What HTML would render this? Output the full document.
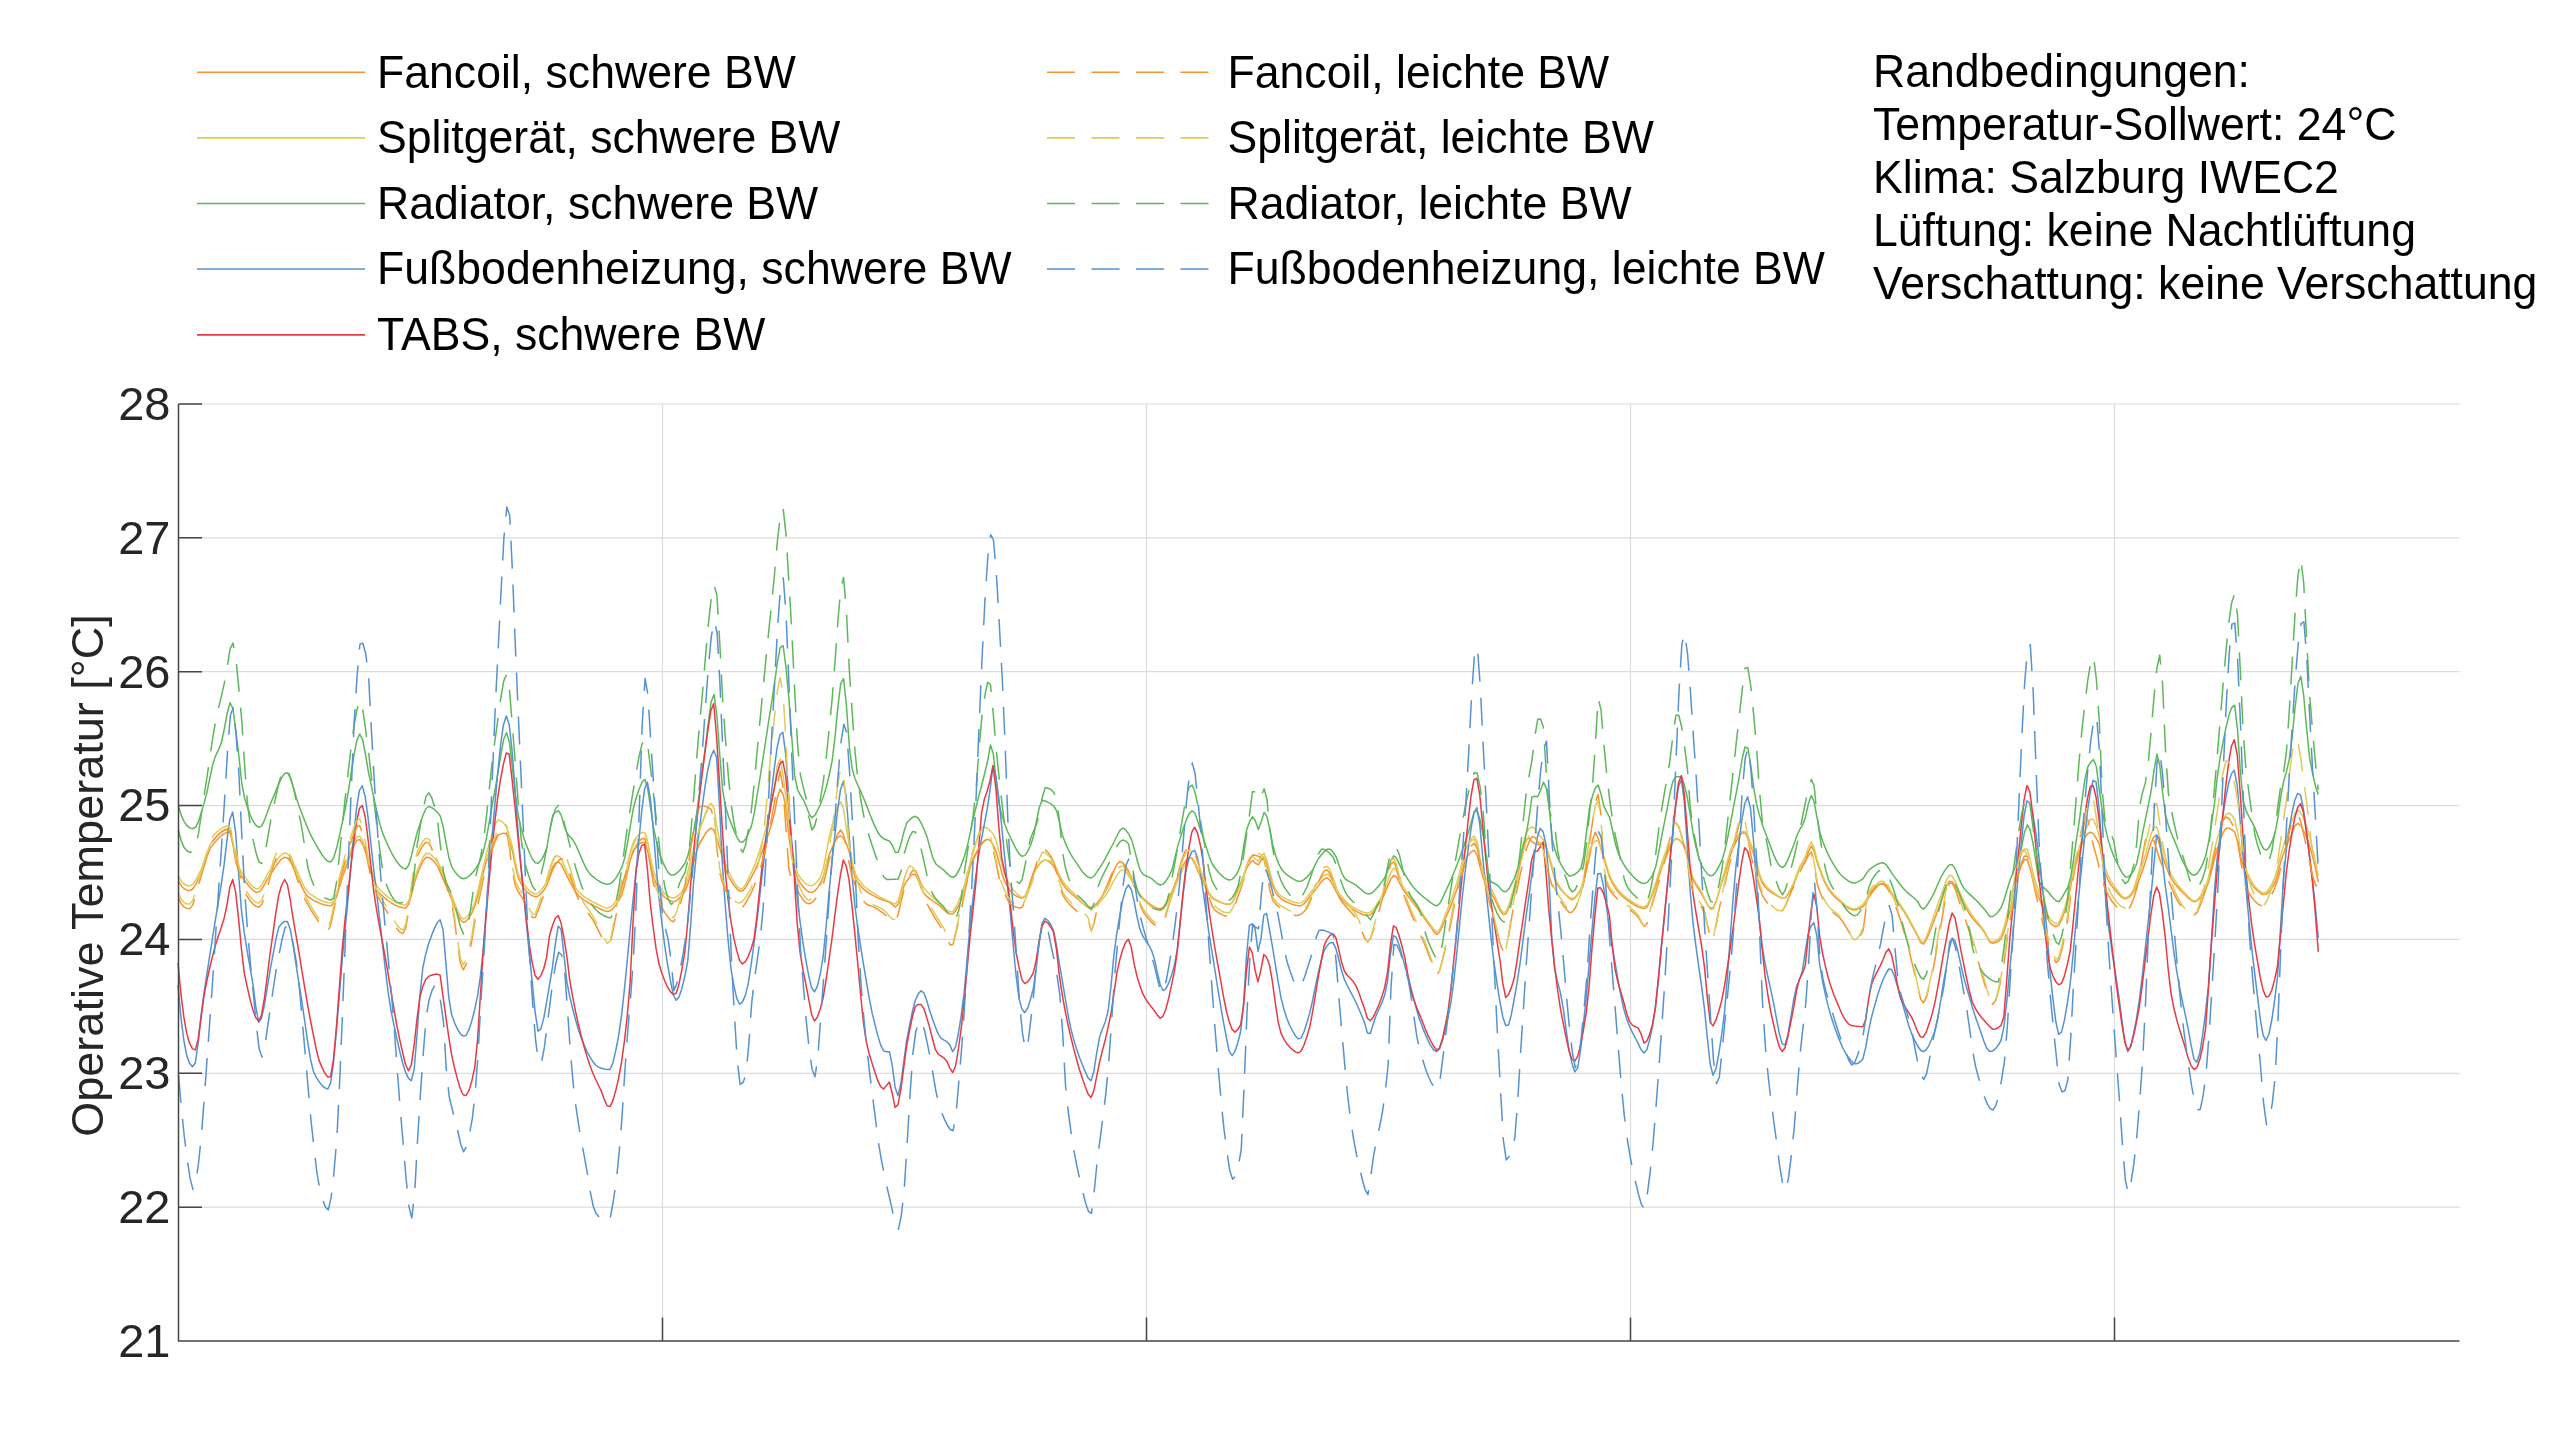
<!DOCTYPE html><html><head><meta charset="utf-8"><style>html,body{margin:0;padding:0;background:#fff;overflow:hidden}svg{display:block;will-change:transform}</style></head><body><svg width="2560" height="1440" viewBox="0 0 2560 1440">
<rect width="2560" height="1440" fill="#fff"/>
<path d="M178.5 404.00H2459.5 M178.5 537.86H2459.5 M178.5 671.71H2459.5 M178.5 805.57H2459.5 M178.5 939.43H2459.5 M178.5 1073.29H2459.5 M178.5 1207.14H2459.5 M662.50 404.0V1341.0 M1146.50 404.0V1341.0 M1630.50 404.0V1341.0 M2114.50 404.0V1341.0" stroke="#dcdcdc" stroke-width="1.2" fill="none"/>
<path d="M178.3 880.8 L181.2 885.7 L184.1 888.7 L186.9 890.2 L189.8 890.6 L192.7 889.0 L195.6 884.6 L198.5 879.0 L201.3 873.1 L204.2 865.1 L207.1 856.3 L210.0 848.9 L212.9 844.6 L215.7 841.2 L218.6 838.1 L221.5 835.5 L224.4 833.6 L227.3 832.3 L230.1 832.3 L233.0 845.2 L235.9 862.6 L238.8 870.6 L241.7 876.0 L244.5 880.2 L247.4 884.0 L250.3 887.6 L253.2 890.6 L256.1 892.4 L258.9 892.1 L261.8 889.0 L264.7 884.1 L267.6 878.7 L270.5 874.4 L273.3 870.2 L276.2 865.8 L279.1 861.7 L282.0 858.6 L284.9 857.2 L287.7 858.3 L290.6 861.9 L293.5 867.3 L296.4 873.8 L299.3 880.8 L302.1 887.4 L305.0 892.9 L307.9 896.7 L310.8 898.6 L313.7 900.3 L316.5 901.8 L319.4 903.1 L322.3 904.2 L325.2 905.1 L328.1 905.6 L330.9 905.8 L333.8 903.1 L336.7 896.1 L339.6 886.8 L342.5 877.1 L345.3 869.2 L348.2 861.3 L351.1 852.9 L354.0 845.4 L356.9 840.4 L359.7 839.5 L362.6 843.7 L365.5 851.9 L368.4 862.4 L371.3 873.4 L374.1 883.2 L377.0 890.2 L379.9 893.6 L382.8 896.2 L385.7 898.7 L388.5 901.0 L391.4 903.0 L394.3 904.7 L397.2 906.1 L400.1 907.1 L402.9 907.8 L405.8 908.0 L408.7 904.1 L411.6 894.3 L414.5 882.8 L417.3 874.2 L420.2 867.3 L423.1 861.0 L426.0 857.3 L428.9 857.4 L431.7 859.3 L434.6 862.3 L437.5 866.1 L440.4 870.3 L443.3 876.4 L446.1 884.3 L449.0 892.6 L451.9 899.6 L454.8 907.0 L457.7 914.4 L460.5 920.0 L463.4 922.5 L466.3 921.1 L469.2 917.4 L472.1 912.7 L474.9 905.7 L477.8 895.6 L480.7 883.6 L483.6 871.5 L486.5 860.7 L489.3 852.5 L492.2 845.2 L495.1 838.9 L498.0 835.2 L500.9 833.9 L503.7 833.1 L506.6 834.0 L509.5 841.1 L512.4 850.9 L515.3 865.6 L518.1 877.5 L521.0 883.5 L523.9 888.1 L526.8 891.5 L529.7 893.9 L532.5 895.8 L535.4 896.8 L538.3 896.0 L541.2 893.4 L544.1 889.9 L546.9 885.2 L549.8 876.3 L552.7 867.1 L555.6 862.7 L558.5 862.0 L561.3 864.3 L564.2 870.3 L567.1 876.7 L570.0 881.9 L572.9 887.2 L575.7 892.0 L578.6 895.7 L581.5 898.3 L584.4 900.4 L587.3 902.2 L590.1 903.9 L593.0 905.3 L595.9 906.7 L598.8 908.1 L601.7 909.5 L604.5 910.8 L607.4 911.4 L610.3 910.7 L613.2 908.3 L616.1 904.6 L618.9 900.1 L621.8 894.6 L624.7 884.5 L627.6 871.7 L630.5 859.4 L633.3 850.6 L636.2 846.9 L639.1 844.2 L642.0 842.4 L644.9 842.6 L647.7 851.4 L650.6 865.3 L653.5 877.0 L656.4 883.7 L659.3 889.6 L662.1 894.4 L665.0 897.5 L667.9 899.6 L670.8 901.2 L673.7 901.7 L676.5 900.6 L679.4 898.1 L682.3 894.7 L685.2 890.8 L688.1 883.3 L690.9 872.8 L693.8 861.4 L696.7 850.9 L699.6 843.5 L702.5 838.5 L705.3 833.8 L708.2 830.2 L711.1 828.2 L714.0 830.1 L716.9 838.8 L719.7 847.8 L722.6 858.5 L725.5 868.9 L728.4 876.0 L731.3 881.1 L734.1 885.6 L737.0 889.1 L739.9 891.0 L742.8 890.7 L745.7 887.4 L748.5 882.5 L751.4 877.5 L754.3 871.6 L757.2 864.9 L760.1 857.6 L762.9 849.9 L765.8 841.9 L768.7 833.2 L771.6 823.8 L774.5 813.3 L777.3 797.7 L780.2 789.2 L783.1 794.7 L786.0 807.5 L788.9 836.2 L791.7 856.2 L794.6 868.9 L797.5 878.0 L800.4 883.1 L803.3 887.0 L806.1 890.1 L809.0 892.1 L811.9 892.6 L814.8 890.9 L817.7 887.4 L820.5 882.9 L823.4 876.0 L826.3 865.2 L829.2 854.6 L832.1 847.7 L834.9 841.9 L837.8 837.4 L840.7 835.7 L843.6 838.3 L846.5 843.8 L849.3 852.2 L852.2 866.2 L855.1 877.9 L858.0 882.6 L860.9 886.1 L863.7 889.1 L866.6 891.5 L869.5 893.4 L872.4 895.2 L875.3 896.7 L878.1 898.2 L881.0 899.3 L883.9 900.3 L886.8 901.3 L889.7 902.5 L892.5 904.7 L895.4 907.1 L898.3 903.9 L901.2 894.2 L904.1 885.6 L906.9 880.9 L909.8 876.8 L912.7 874.3 L915.6 874.8 L918.5 880.6 L921.3 888.3 L924.2 893.7 L927.1 896.6 L930.0 898.9 L932.9 901.0 L935.7 902.9 L938.6 905.0 L941.5 907.6 L944.4 910.3 L947.3 912.6 L950.1 914.0 L953.0 913.8 L955.9 910.4 L958.8 905.3 L961.7 899.1 L964.5 889.6 L967.4 878.2 L970.3 867.2 L973.2 858.7 L976.1 853.2 L978.9 848.0 L981.8 843.6 L984.7 840.5 L987.6 839.2 L990.5 840.9 L993.3 845.1 L996.2 851.7 L999.1 862.4 L1002.0 873.7 L1004.9 881.9 L1007.7 886.9 L1010.6 891.1 L1013.5 894.3 L1016.4 896.2 L1019.3 897.4 L1022.1 898.2 L1025.0 896.5 L1027.9 889.6 L1030.8 880.3 L1033.7 871.9 L1036.5 867.1 L1039.4 863.7 L1042.3 861.1 L1045.2 860.0 L1048.1 860.9 L1050.9 863.1 L1053.8 866.3 L1056.7 871.8 L1059.6 878.2 L1062.5 883.8 L1065.3 887.5 L1068.2 890.6 L1071.1 893.2 L1074.0 895.7 L1076.9 898.1 L1079.7 900.7 L1082.6 903.2 L1085.5 905.3 L1088.4 906.7 L1091.3 907.2 L1094.1 906.0 L1097.0 903.3 L1099.9 899.5 L1102.8 895.2 L1105.7 891.0 L1108.5 884.9 L1111.4 877.3 L1114.3 869.8 L1117.2 864.0 L1120.1 861.4 L1122.9 863.1 L1125.8 867.5 L1128.7 873.0 L1131.6 878.3 L1134.5 884.8 L1137.3 891.1 L1140.2 895.3 L1143.1 898.2 L1146.0 901.0 L1148.9 903.4 L1151.7 905.5 L1154.6 907.1 L1157.5 908.2 L1160.4 908.6 L1163.3 907.1 L1166.1 902.9 L1169.0 897.3 L1171.9 891.6 L1174.8 884.8 L1177.7 876.9 L1180.5 869.9 L1183.4 864.7 L1186.3 859.9 L1189.2 857.3 L1192.1 858.8 L1194.9 863.9 L1197.8 870.9 L1200.7 877.8 L1203.6 883.3 L1206.5 889.0 L1209.3 894.3 L1212.2 898.1 L1215.1 899.9 L1218.0 901.3 L1220.9 902.6 L1223.7 903.5 L1226.6 904.1 L1229.5 904.4 L1232.4 902.4 L1235.3 896.2 L1238.1 888.6 L1241.0 882.1 L1243.9 875.0 L1246.8 868.2 L1249.7 863.2 L1252.5 860.3 L1255.4 863.2 L1258.3 864.8 L1261.2 860.1 L1264.1 857.2 L1266.9 864.5 L1269.8 875.3 L1272.7 885.9 L1275.6 892.8 L1278.5 896.3 L1281.3 898.9 L1284.2 900.8 L1287.1 902.2 L1290.0 903.4 L1292.9 904.5 L1295.7 905.3 L1298.6 905.7 L1301.5 905.5 L1304.4 903.3 L1307.3 899.9 L1310.1 896.1 L1313.0 892.7 L1315.9 889.1 L1318.8 885.1 L1321.7 881.4 L1324.5 878.8 L1327.4 878.0 L1330.3 880.6 L1333.2 885.7 L1336.1 891.4 L1338.9 896.0 L1341.8 899.5 L1344.7 902.6 L1347.6 905.4 L1350.5 907.5 L1353.3 909.4 L1356.2 911.3 L1359.1 912.9 L1362.0 914.3 L1364.9 915.2 L1367.7 915.6 L1370.6 914.7 L1373.5 911.9 L1376.4 907.8 L1379.3 903.3 L1382.1 898.8 L1385.0 892.9 L1387.9 885.6 L1390.8 879.1 L1393.7 875.5 L1396.5 877.0 L1399.4 882.5 L1402.3 888.4 L1405.2 892.5 L1408.1 896.3 L1410.9 899.9 L1413.8 903.5 L1416.7 907.2 L1419.6 911.2 L1422.5 915.3 L1425.3 919.5 L1428.2 923.5 L1431.1 927.4 L1434.0 931.9 L1436.9 934.3 L1439.7 931.7 L1442.6 925.7 L1445.5 918.3 L1448.4 911.5 L1451.3 904.6 L1454.1 897.0 L1457.0 888.9 L1459.9 879.2 L1462.8 867.4 L1465.7 859.4 L1468.5 854.9 L1471.4 851.6 L1474.3 850.3 L1477.2 855.5 L1480.1 866.7 L1482.9 877.1 L1485.8 883.5 L1488.7 889.0 L1491.6 894.0 L1494.5 899.0 L1497.3 904.9 L1500.2 910.9 L1503.1 914.6 L1506.0 913.7 L1508.9 907.6 L1511.7 898.7 L1514.6 889.7 L1517.5 877.2 L1520.4 862.3 L1523.3 848.5 L1526.1 839.4 L1529.0 838.3 L1531.9 841.6 L1534.8 843.6 L1537.7 844.5 L1540.5 844.4 L1543.4 843.3 L1546.3 848.2 L1549.2 857.7 L1552.1 868.8 L1554.9 879.6 L1557.8 885.4 L1560.7 889.4 L1563.6 892.5 L1566.5 895.3 L1569.3 897.9 L1572.2 898.9 L1575.1 897.4 L1578.0 894.0 L1580.9 889.4 L1583.7 881.6 L1586.6 869.5 L1589.5 856.8 L1592.4 840.8 L1595.3 832.2 L1598.1 838.0 L1601.0 849.0 L1603.9 859.0 L1606.8 868.6 L1609.7 877.5 L1612.5 883.7 L1615.4 888.2 L1618.3 892.0 L1621.2 895.1 L1624.1 897.7 L1626.9 899.9 L1629.8 901.9 L1632.7 903.9 L1635.6 905.7 L1638.5 907.1 L1641.3 908.1 L1644.2 908.6 L1647.1 906.9 L1650.0 900.6 L1652.9 893.0 L1655.7 885.7 L1658.6 877.2 L1661.5 868.5 L1664.4 860.5 L1667.3 853.9 L1670.1 847.0 L1673.0 841.3 L1675.9 838.5 L1678.8 839.5 L1681.7 842.6 L1684.5 847.0 L1687.4 857.9 L1690.3 871.5 L1693.2 880.2 L1696.1 885.3 L1698.9 889.5 L1701.8 894.1 L1704.7 899.7 L1707.6 905.0 L1710.5 908.2 L1713.3 907.5 L1716.2 901.1 L1719.1 891.6 L1722.0 881.8 L1724.9 873.1 L1727.7 863.5 L1730.6 854.2 L1733.5 846.8 L1736.4 841.1 L1739.3 836.0 L1742.1 832.7 L1745.0 832.9 L1747.9 837.7 L1750.8 845.4 L1753.7 854.2 L1756.5 863.7 L1759.4 875.7 L1762.3 883.2 L1765.2 887.0 L1768.1 889.9 L1770.9 892.1 L1773.8 893.9 L1776.7 895.7 L1779.6 897.2 L1782.5 898.1 L1785.3 897.7 L1788.2 894.5 L1791.1 889.7 L1794.0 883.9 L1796.9 875.6 L1799.7 868.7 L1802.6 865.6 L1805.5 860.7 L1808.4 851.6 L1811.3 846.0 L1814.1 851.2 L1817.0 861.8 L1819.9 869.9 L1822.8 877.7 L1825.7 884.5 L1828.5 889.4 L1831.4 893.2 L1834.3 896.4 L1837.2 899.1 L1840.1 901.5 L1842.9 904.0 L1845.8 906.4 L1848.7 908.4 L1851.6 909.6 L1854.5 910.0 L1857.3 909.4 L1860.2 908.2 L1863.1 906.5 L1866.0 902.4 L1868.9 897.3 L1871.7 893.3 L1874.6 889.4 L1877.5 886.0 L1880.4 883.9 L1883.3 884.0 L1886.1 886.6 L1889.0 890.6 L1891.9 894.8 L1894.8 898.5 L1897.7 902.3 L1900.5 906.4 L1903.4 910.7 L1906.3 915.3 L1909.2 920.5 L1912.1 925.8 L1914.9 931.2 L1917.8 936.4 L1920.7 942.6 L1923.6 944.2 L1926.5 939.2 L1929.3 932.7 L1932.2 925.6 L1935.1 917.7 L1938.0 909.6 L1940.9 902.2 L1943.7 893.7 L1946.6 885.8 L1949.5 881.1 L1952.4 882.0 L1955.3 886.9 L1958.1 893.4 L1961.0 899.3 L1963.9 904.4 L1966.8 909.5 L1969.7 914.2 L1972.5 918.2 L1975.4 921.6 L1978.3 924.8 L1981.2 928.1 L1984.1 931.7 L1986.9 937.0 L1989.8 942.2 L1992.7 943.2 L1995.6 942.5 L1998.5 941.3 L2001.3 938.6 L2004.2 931.2 L2007.1 921.1 L2010.0 910.7 L2012.9 897.9 L2015.7 883.9 L2018.6 872.6 L2021.5 865.2 L2024.4 859.6 L2027.3 859.7 L2030.1 868.5 L2033.0 880.3 L2035.9 889.3 L2038.8 897.2 L2041.7 904.5 L2044.5 911.4 L2047.4 918.3 L2050.3 923.2 L2053.2 925.5 L2056.1 926.7 L2058.9 925.1 L2061.8 919.2 L2064.7 911.0 L2067.6 901.5 L2070.5 887.2 L2073.3 873.1 L2076.2 862.8 L2079.1 853.0 L2082.0 844.3 L2084.9 837.5 L2087.7 833.6 L2090.6 832.2 L2093.5 833.9 L2096.4 838.3 L2099.3 844.2 L2102.1 857.8 L2105.0 872.9 L2107.9 879.8 L2110.8 884.7 L2113.7 888.4 L2116.5 891.7 L2119.4 895.0 L2122.3 897.7 L2125.2 898.9 L2128.1 897.9 L2130.9 895.2 L2133.8 891.7 L2136.7 886.2 L2139.6 878.6 L2142.5 870.5 L2145.3 862.3 L2148.2 852.3 L2151.1 842.8 L2154.0 836.3 L2156.9 836.0 L2159.7 845.4 L2162.6 856.7 L2165.5 864.9 L2168.4 872.6 L2171.3 878.4 L2174.1 882.8 L2177.0 886.6 L2179.9 889.8 L2182.8 892.7 L2185.7 895.3 L2188.5 898.1 L2191.4 900.5 L2194.3 901.7 L2197.2 900.8 L2200.1 898.1 L2202.9 893.9 L2205.8 889.2 L2208.7 881.5 L2211.6 870.2 L2214.5 858.5 L2217.3 849.1 L2220.2 840.4 L2223.1 832.5 L2226.0 828.2 L2228.9 828.3 L2231.7 829.6 L2234.6 831.8 L2237.5 841.3 L2240.4 856.4 L2243.3 865.7 L2246.1 873.5 L2249.0 879.6 L2251.9 884.4 L2254.8 888.2 L2257.7 891.0 L2260.5 893.2 L2263.4 894.6 L2266.3 894.1 L2269.2 891.6 L2272.1 887.8 L2274.9 882.9 L2277.8 873.3 L2280.7 862.1 L2283.6 853.4 L2286.5 845.9 L2289.3 839.2 L2292.2 832.5 L2295.1 825.7 L2298.0 823.3 L2300.9 826.0 L2303.7 831.0 L2306.6 837.1 L2309.5 845.6 L2312.4 855.7 L2315.3 867.3 L2318.1 881.4 L2318.3 882.2" stroke="#f6942e" stroke-width="1.5" fill="none" stroke-linejoin="round"/>
<path d="M178.3 876.0 L181.2 880.9 L184.1 884.0 L186.9 885.5 L189.8 886.0 L192.7 884.4 L195.6 880.3 L198.5 874.9 L201.3 869.2 L204.2 861.2 L207.1 852.4 L210.0 844.9 L212.9 840.6 L215.7 837.2 L218.6 834.1 L221.5 831.5 L224.4 829.6 L227.3 828.3 L230.1 828.3 L233.0 841.5 L235.9 859.1 L238.8 867.0 L241.7 872.3 L244.5 876.4 L247.4 880.2 L250.3 883.9 L253.2 886.9 L256.1 888.7 L258.9 888.5 L261.8 885.0 L264.7 879.6 L267.6 873.9 L270.5 869.4 L273.3 865.3 L276.2 861.0 L279.1 857.2 L282.0 854.3 L284.9 853.0 L287.7 854.0 L290.6 857.5 L293.5 862.8 L296.4 869.2 L299.3 876.0 L302.1 882.6 L305.0 888.2 L307.9 892.1 L310.8 894.3 L313.7 896.3 L316.5 898.1 L319.4 899.7 L322.3 901.0 L325.2 902.1 L328.1 902.8 L330.9 903.0 L333.8 900.2 L336.7 892.9 L339.6 883.2 L342.5 873.3 L345.3 865.2 L348.2 857.4 L351.1 849.2 L354.0 841.9 L356.9 837.1 L359.7 836.2 L362.6 840.4 L365.5 848.4 L368.4 858.7 L371.3 869.5 L374.1 879.2 L377.0 886.2 L379.9 889.6 L382.8 892.5 L385.7 895.1 L388.5 897.5 L391.4 899.6 L394.3 901.4 L397.2 902.9 L400.1 904.0 L402.9 904.7 L405.8 905.0 L408.7 901.0 L411.6 890.8 L414.5 879.0 L417.3 870.2 L420.2 863.2 L423.1 857.0 L426.0 853.3 L428.9 853.4 L431.7 855.3 L434.6 858.5 L437.5 862.4 L440.4 866.6 L443.3 872.7 L446.1 880.8 L449.0 889.1 L451.9 896.1 L454.8 903.5 L457.7 910.9 L460.5 916.6 L463.4 919.0 L466.3 917.6 L469.2 913.8 L472.1 908.9 L474.9 901.7 L477.8 891.1 L480.7 878.6 L483.6 865.5 L486.5 853.5 L489.3 843.6 L492.2 833.4 L495.1 824.4 L498.0 820.1 L500.9 820.8 L503.7 823.3 L506.6 827.2 L509.5 835.9 L512.4 846.7 L515.3 861.9 L518.1 873.8 L521.0 879.9 L523.9 884.6 L526.8 888.1 L529.7 890.6 L532.5 892.8 L535.4 894.0 L538.3 893.1 L541.2 890.3 L544.1 886.3 L546.9 881.0 L549.8 870.7 L552.7 860.2 L555.6 856.0 L558.5 856.0 L561.3 858.6 L564.2 865.4 L567.1 872.6 L570.0 878.0 L572.9 883.3 L575.7 888.0 L578.6 891.7 L581.5 894.4 L584.4 896.7 L587.3 898.7 L590.1 900.5 L593.0 902.1 L595.9 903.5 L598.8 904.9 L601.7 906.3 L604.5 907.4 L607.4 908.0 L610.3 907.3 L613.2 904.7 L616.1 900.7 L618.9 895.8 L621.8 889.9 L624.7 878.9 L627.6 865.0 L630.5 851.6 L633.3 841.9 L636.2 837.7 L639.1 834.5 L642.0 832.5 L644.9 832.7 L647.7 842.5 L650.6 857.8 L653.5 870.8 L656.4 878.5 L659.3 885.3 L662.1 890.6 L665.0 894.0 L667.9 896.0 L670.8 897.5 L673.7 898.0 L676.5 896.9 L679.4 894.4 L682.3 890.9 L685.2 886.7 L688.1 878.5 L690.9 866.6 L693.8 853.2 L696.7 840.4 L699.6 830.3 L702.5 822.1 L705.3 813.8 L708.2 807.1 L711.1 803.3 L714.0 808.0 L716.9 826.8 L719.7 841.2 L722.6 853.2 L725.5 863.4 L728.4 870.8 L731.3 876.8 L734.1 882.2 L737.0 886.4 L739.9 888.7 L742.8 888.4 L745.7 884.4 L748.5 878.6 L751.4 872.7 L754.3 865.9 L757.2 858.0 L760.1 849.2 L762.9 839.5 L765.8 828.4 L768.7 815.7 L771.6 801.8 L774.5 786.7 L777.3 765.5 L780.2 759.0 L783.1 775.6 L786.0 797.9 L788.9 826.2 L791.7 846.7 L794.6 862.2 L797.5 873.1 L800.4 878.0 L803.3 881.3 L806.1 883.8 L809.0 885.3 L811.9 885.7 L814.8 884.2 L817.7 881.1 L820.5 876.8 L823.4 868.2 L826.3 852.9 L829.2 836.9 L832.1 825.5 L834.9 815.0 L837.8 806.2 L840.7 801.8 L843.6 809.4 L846.5 828.9 L849.3 845.1 L852.2 861.5 L855.1 873.4 L858.0 878.6 L860.9 882.5 L863.7 885.7 L866.6 888.2 L869.5 890.4 L872.4 892.3 L875.3 894.1 L878.1 895.9 L881.0 897.5 L883.9 899.0 L886.8 900.4 L889.7 901.6 L892.5 902.9 L895.4 904.0 L898.3 900.4 L901.2 889.7 L904.1 878.9 L906.9 870.7 L909.8 865.6 L912.7 867.3 L915.6 871.9 L918.5 877.9 L921.3 883.9 L924.2 888.4 L927.1 891.8 L930.0 894.8 L932.9 897.6 L935.7 900.2 L938.6 902.7 L941.5 905.4 L944.4 908.1 L947.3 910.4 L950.1 911.8 L953.0 911.4 L955.9 907.2 L958.8 900.8 L961.7 893.8 L964.5 884.4 L967.4 873.5 L970.3 862.3 L973.2 852.2 L976.1 842.9 L978.9 833.3 L981.8 827.2 L984.7 827.0 L987.6 828.5 L990.5 831.1 L993.3 834.3 L996.2 840.4 L999.1 852.0 L1002.0 864.9 L1004.9 874.7 L1007.7 880.8 L1010.6 886.1 L1013.5 890.3 L1016.4 893.3 L1019.3 895.9 L1022.1 897.4 L1025.0 896.0 L1027.9 889.9 L1030.8 881.5 L1033.7 873.7 L1036.5 868.7 L1039.4 864.6 L1042.3 861.4 L1045.2 860.0 L1048.1 860.4 L1050.9 861.5 L1053.8 863.7 L1056.7 868.7 L1059.6 875.1 L1062.5 880.7 L1065.3 884.6 L1068.2 887.8 L1071.1 890.8 L1074.0 893.6 L1076.9 896.6 L1079.7 900.0 L1082.6 903.2 L1085.5 906.0 L1088.4 908.0 L1091.3 908.6 L1094.1 907.6 L1097.0 905.2 L1099.9 902.1 L1102.8 898.6 L1105.7 895.2 L1108.5 890.8 L1111.4 885.4 L1114.3 879.8 L1117.2 874.8 L1120.1 871.1 L1122.9 869.7 L1125.8 871.7 L1128.7 876.0 L1131.6 880.6 L1134.5 886.6 L1137.3 892.5 L1140.2 896.5 L1143.1 899.5 L1146.0 902.2 L1148.9 904.7 L1151.7 906.8 L1154.6 908.5 L1157.5 909.6 L1160.4 910.0 L1163.3 908.7 L1166.1 904.9 L1169.0 899.9 L1171.9 894.6 L1174.8 888.3 L1177.7 880.7 L1180.5 873.7 L1183.4 868.0 L1186.3 862.2 L1189.2 858.1 L1192.1 857.6 L1194.9 862.1 L1197.8 869.3 L1200.7 876.9 L1203.6 882.6 L1206.5 888.2 L1209.3 893.3 L1212.2 897.1 L1215.1 899.1 L1218.0 900.8 L1220.9 902.2 L1223.7 903.3 L1226.6 904.1 L1229.5 904.4 L1232.4 902.7 L1235.3 897.5 L1238.1 890.6 L1241.0 883.6 L1243.9 874.1 L1246.8 864.5 L1249.7 858.3 L1252.5 856.2 L1255.4 859.4 L1258.3 861.2 L1261.2 856.1 L1264.1 853.0 L1266.9 860.4 L1269.8 871.4 L1272.7 882.6 L1275.6 889.9 L1278.5 893.5 L1281.3 896.2 L1284.2 898.1 L1287.1 899.5 L1290.0 900.7 L1292.9 901.7 L1295.7 902.5 L1298.6 902.9 L1301.5 902.7 L1304.4 900.4 L1307.3 896.8 L1310.1 892.9 L1313.0 889.4 L1315.9 885.6 L1318.8 881.4 L1321.7 877.6 L1324.5 874.9 L1327.4 874.1 L1330.3 876.7 L1333.2 882.1 L1336.1 888.2 L1338.9 893.1 L1341.8 896.7 L1344.7 900.2 L1347.6 903.1 L1350.5 905.3 L1353.3 907.2 L1356.2 908.9 L1359.1 910.5 L1362.0 911.8 L1364.9 912.6 L1367.7 913.0 L1370.6 912.1 L1373.5 909.3 L1376.4 905.2 L1379.3 900.5 L1382.1 895.8 L1385.0 889.1 L1387.9 880.4 L1390.8 872.6 L1393.7 868.2 L1396.5 870.2 L1399.4 877.6 L1402.3 885.1 L1405.2 889.8 L1408.1 893.8 L1410.9 897.5 L1413.8 901.2 L1416.7 905.0 L1419.6 909.2 L1422.5 913.5 L1425.3 917.8 L1428.2 921.9 L1431.1 925.7 L1434.0 929.8 L1436.9 932.0 L1439.7 929.2 L1442.6 922.5 L1445.5 914.5 L1448.4 907.1 L1451.3 899.5 L1454.1 891.3 L1457.0 882.3 L1459.9 871.6 L1462.8 858.3 L1465.7 849.3 L1468.5 844.3 L1471.4 840.6 L1474.3 839.2 L1477.2 845.5 L1480.1 858.8 L1482.9 871.0 L1485.8 878.2 L1488.7 884.2 L1491.6 889.7 L1494.5 895.1 L1497.3 901.7 L1500.2 908.4 L1503.1 912.6 L1506.0 911.6 L1508.9 904.9 L1511.7 895.3 L1514.6 885.6 L1517.5 872.9 L1520.4 857.9 L1523.3 843.6 L1526.1 833.1 L1529.0 828.7 L1531.9 826.8 L1534.8 828.5 L1537.7 833.5 L1540.5 837.1 L1543.4 839.8 L1546.3 846.3 L1549.2 855.6 L1552.1 866.5 L1554.9 877.2 L1557.8 883.7 L1560.7 888.3 L1563.6 892.0 L1566.5 895.5 L1569.3 898.7 L1572.2 900.0 L1575.1 898.3 L1578.0 894.5 L1580.9 889.3 L1583.7 878.1 L1586.6 861.3 L1589.5 849.8 L1592.4 844.4 L1595.3 840.7 L1598.1 840.9 L1601.0 848.1 L1603.9 856.7 L1606.8 865.9 L1609.7 875.2 L1612.5 881.5 L1615.4 886.0 L1618.3 889.9 L1621.2 893.1 L1624.1 895.8 L1626.9 898.0 L1629.8 900.1 L1632.7 902.2 L1635.6 904.0 L1638.5 905.4 L1641.3 906.5 L1644.2 907.0 L1647.1 905.2 L1650.0 898.9 L1652.9 891.1 L1655.7 883.1 L1658.6 873.2 L1661.5 863.3 L1664.4 855.0 L1667.3 849.4 L1670.1 844.5 L1673.0 840.8 L1675.9 839.0 L1678.8 839.8 L1681.7 842.2 L1684.5 845.9 L1687.4 856.2 L1690.3 869.6 L1693.2 878.1 L1696.1 883.1 L1698.9 887.3 L1701.8 892.3 L1704.7 899.0 L1707.6 905.4 L1710.5 909.5 L1713.3 908.7 L1716.2 901.4 L1719.1 890.6 L1722.0 879.7 L1724.9 870.2 L1727.7 859.7 L1730.6 850.0 L1733.5 842.7 L1736.4 837.9 L1739.3 833.9 L1742.1 831.4 L1745.0 831.6 L1747.9 836.2 L1750.8 843.6 L1753.7 852.1 L1756.5 861.4 L1759.4 873.4 L1762.3 881.0 L1765.2 885.1 L1768.1 888.2 L1770.9 890.6 L1773.8 892.7 L1776.7 894.9 L1779.6 896.7 L1782.5 897.8 L1785.3 897.4 L1788.2 893.6 L1791.1 888.1 L1794.0 882.0 L1796.9 873.8 L1799.7 866.5 L1802.6 862.0 L1805.5 856.1 L1808.4 847.2 L1811.3 842.0 L1814.1 847.8 L1817.0 859.5 L1819.9 867.9 L1822.8 875.8 L1825.7 882.6 L1828.5 887.6 L1831.4 891.6 L1834.3 894.9 L1837.2 897.8 L1840.1 900.3 L1842.9 902.9 L1845.8 905.3 L1848.7 907.3 L1851.6 908.6 L1854.5 909.0 L1857.3 908.1 L1860.2 906.4 L1863.1 904.2 L1866.0 899.8 L1868.9 894.6 L1871.7 890.6 L1874.6 886.7 L1877.5 883.3 L1880.4 881.3 L1883.3 881.5 L1886.1 884.2 L1889.0 888.4 L1891.9 892.8 L1894.8 896.6 L1897.7 900.6 L1900.5 904.8 L1903.4 909.2 L1906.3 914.0 L1909.2 919.2 L1912.1 924.5 L1914.9 929.9 L1917.8 935.0 L1920.7 941.0 L1923.6 942.5 L1926.5 936.5 L1929.3 928.9 L1932.2 921.0 L1935.1 912.2 L1938.0 903.5 L1940.9 895.7 L1943.7 887.4 L1946.6 879.7 L1949.5 875.3 L1952.4 876.3 L1955.3 881.7 L1958.1 889.0 L1961.0 895.4 L1963.9 901.0 L1966.8 906.4 L1969.7 911.5 L1972.5 915.8 L1975.4 919.6 L1978.3 923.1 L1981.2 926.7 L1984.1 930.5 L1986.9 935.8 L1989.8 941.0 L1992.7 941.9 L1995.6 940.8 L1998.5 939.0 L2001.3 935.5 L2004.2 926.5 L2007.1 914.6 L2010.0 902.6 L2012.9 888.4 L2015.7 873.4 L2018.6 861.6 L2021.5 854.3 L2024.4 849.0 L2027.3 849.3 L2030.1 859.3 L2033.0 872.7 L2035.9 882.9 L2038.8 891.9 L2041.7 900.1 L2044.5 907.3 L2047.4 914.1 L2050.3 919.2 L2053.2 922.2 L2056.1 923.9 L2058.9 922.3 L2061.8 916.1 L2064.7 907.4 L2067.6 897.6 L2070.5 882.9 L2073.3 868.2 L2076.2 857.6 L2079.1 847.9 L2082.0 839.2 L2084.9 831.6 L2087.7 825.1 L2090.6 819.2 L2093.5 819.2 L2096.4 826.5 L2099.3 836.3 L2102.1 851.7 L2105.0 867.3 L2107.9 875.3 L2110.8 880.9 L2113.7 885.4 L2116.5 889.3 L2119.4 893.3 L2122.3 896.6 L2125.2 898.0 L2128.1 896.8 L2130.9 893.7 L2133.8 889.7 L2136.7 883.1 L2139.6 874.0 L2142.5 864.5 L2145.3 855.3 L2148.2 844.4 L2151.1 834.3 L2154.0 827.4 L2156.9 827.1 L2159.7 837.2 L2162.6 849.4 L2165.5 858.8 L2168.4 867.7 L2171.3 874.5 L2174.1 879.5 L2177.0 883.8 L2179.9 887.5 L2182.8 890.7 L2185.7 893.7 L2188.5 896.9 L2191.4 899.6 L2194.3 901.0 L2197.2 900.0 L2200.1 896.6 L2202.9 891.7 L2205.8 886.0 L2208.7 876.7 L2211.6 863.3 L2214.5 849.4 L2217.3 838.6 L2220.2 829.1 L2223.1 820.3 L2226.0 814.2 L2228.9 812.9 L2231.7 815.1 L2234.6 819.3 L2237.5 831.5 L2240.4 849.1 L2243.3 860.0 L2246.1 869.2 L2249.0 876.3 L2251.9 881.8 L2254.8 886.4 L2257.7 889.4 L2260.5 891.6 L2263.4 892.9 L2266.3 892.1 L2269.2 888.7 L2272.1 883.6 L2274.9 877.5 L2277.8 867.3 L2280.7 855.4 L2283.6 845.5 L2286.5 836.5 L2289.3 828.3 L2292.2 820.5 L2295.1 812.8 L2298.0 810.1 L2300.9 813.1 L2303.7 818.6 L2306.6 825.8 L2309.5 836.4 L2312.4 848.3 L2315.3 860.9 L2318.1 875.2 L2318.3 876.0" stroke="#dfcb58" stroke-width="1.5" fill="none" stroke-linejoin="round"/>
<path d="M178.3 805.8 L181.2 815.1 L184.1 821.6 L186.9 825.7 L189.8 827.9 L192.7 828.7 L195.6 827.3 L198.5 821.4 L201.3 812.5 L204.2 802.6 L207.1 791.6 L210.0 777.3 L212.9 763.9 L215.7 755.5 L218.6 749.7 L221.5 742.4 L224.4 728.5 L227.3 712.7 L230.1 702.7 L233.0 708.8 L235.9 731.4 L238.8 755.3 L241.7 782.7 L244.5 798.0 L247.4 807.3 L250.3 815.2 L253.2 821.4 L256.1 825.5 L258.9 827.3 L261.8 825.7 L264.7 819.8 L267.6 811.7 L270.5 803.6 L273.3 797.1 L276.2 790.1 L279.1 783.1 L282.0 777.1 L284.9 773.3 L287.7 773.0 L290.6 778.4 L293.5 787.7 L296.4 798.0 L299.3 806.7 L302.1 814.1 L305.0 821.5 L307.9 828.6 L310.8 835.2 L313.7 840.7 L316.5 845.6 L319.4 850.5 L322.3 855.1 L325.2 858.9 L328.1 861.3 L330.9 861.9 L333.8 857.3 L336.7 847.8 L339.6 835.1 L342.5 821.4 L345.3 808.5 L348.2 792.7 L351.1 773.5 L354.0 754.9 L356.9 740.4 L359.7 734.0 L362.6 739.6 L365.5 754.5 L368.4 771.8 L371.3 785.6 L374.1 798.9 L377.0 812.1 L379.9 824.1 L382.8 833.6 L385.7 840.3 L388.5 846.6 L391.4 852.5 L394.3 857.8 L397.2 862.3 L400.1 865.8 L402.9 868.1 L405.8 869.0 L408.7 865.2 L411.6 855.2 L414.5 842.9 L417.3 831.9 L420.2 823.5 L423.1 815.0 L426.0 808.5 L428.9 806.5 L431.7 807.6 L434.6 809.7 L437.5 812.3 L440.4 816.4 L443.3 827.4 L446.1 843.1 L449.0 858.1 L451.9 867.2 L454.8 871.6 L457.7 875.2 L460.5 877.7 L463.4 878.7 L466.3 878.0 L469.2 875.9 L472.1 873.1 L474.9 869.9 L477.8 865.5 L480.7 859.5 L483.6 850.9 L486.5 837.8 L489.3 821.8 L492.2 805.0 L495.1 789.5 L498.0 772.5 L500.9 754.1 L503.7 739.2 L506.6 732.8 L509.5 742.8 L512.4 767.0 L515.3 794.5 L518.1 814.5 L521.0 827.9 L523.9 838.3 L526.8 846.1 L529.7 853.3 L532.5 859.2 L535.4 862.8 L538.3 863.2 L541.2 860.3 L544.1 854.8 L546.9 847.7 L549.8 830.1 L552.7 815.3 L555.6 812.1 L558.5 810.7 L561.3 815.4 L564.2 826.1 L567.1 833.3 L570.0 836.7 L572.9 840.0 L575.7 844.9 L578.6 851.2 L581.5 858.1 L584.4 864.8 L587.3 870.4 L590.1 874.1 L593.0 876.6 L595.9 879.0 L598.8 881.0 L601.7 882.7 L604.5 883.8 L607.4 884.3 L610.3 883.7 L613.2 881.3 L616.1 877.6 L618.9 872.8 L621.8 867.4 L624.7 858.0 L627.6 842.6 L630.5 824.9 L633.3 808.7 L636.2 797.7 L639.1 789.2 L642.0 782.3 L644.9 779.4 L647.7 788.3 L650.6 808.2 L653.5 827.4 L656.4 840.9 L659.3 852.7 L662.1 860.4 L665.0 866.9 L667.9 872.1 L670.8 875.0 L673.7 875.0 L676.5 873.4 L679.4 870.7 L682.3 867.0 L685.2 862.6 L688.1 854.8 L690.9 843.5 L693.8 830.3 L696.7 813.5 L699.6 791.9 L702.5 768.9 L705.3 747.6 L708.2 723.7 L711.1 701.9 L714.0 694.4 L716.9 715.5 L719.7 754.3 L722.6 789.8 L725.5 806.0 L728.4 816.2 L731.3 824.0 L734.1 830.6 L737.0 837.3 L739.9 841.9 L742.8 842.1 L745.7 838.9 L748.5 833.2 L751.4 826.1 L754.3 813.1 L757.2 794.8 L760.1 777.3 L762.9 759.1 L765.8 740.2 L768.7 720.9 L771.6 702.5 L774.5 683.3 L777.3 662.8 L780.2 647.7 L783.1 645.7 L786.0 667.5 L788.9 698.6 L791.7 736.5 L794.6 775.4 L797.5 789.5 L800.4 795.2 L803.3 799.6 L806.1 805.9 L809.0 813.6 L811.9 817.6 L814.8 815.4 L817.7 810.0 L820.5 804.0 L823.4 796.5 L826.3 787.1 L829.2 775.3 L832.1 760.8 L834.9 737.9 L837.8 707.9 L840.7 683.6 L843.6 678.7 L846.5 706.4 L849.3 746.0 L852.2 769.1 L855.1 778.7 L858.0 785.7 L860.9 791.7 L863.7 798.3 L866.6 805.6 L869.5 813.2 L872.4 820.6 L875.3 827.2 L878.1 832.8 L881.0 836.7 L883.9 838.8 L886.8 840.0 L889.7 841.3 L892.5 845.5 L895.4 852.5 L898.3 852.2 L901.2 843.0 L904.1 831.1 L906.9 822.8 L909.8 819.6 L912.7 817.2 L915.6 816.3 L918.5 818.3 L921.3 823.4 L924.2 829.8 L927.1 837.2 L930.0 847.9 L932.9 858.1 L935.7 863.7 L938.6 866.4 L941.5 868.4 L944.4 870.7 L947.3 873.6 L950.1 876.3 L953.0 877.4 L955.9 875.5 L958.8 870.5 L961.7 863.7 L964.5 856.3 L967.4 845.8 L970.3 832.3 L973.2 818.7 L976.1 806.9 L978.9 795.8 L981.8 784.8 L984.7 773.3 L987.6 761.0 L990.5 744.9 L993.3 753.7 L996.2 780.8 L999.1 804.4 L1002.0 815.6 L1004.9 824.5 L1007.7 831.7 L1010.6 837.8 L1013.5 843.8 L1016.4 849.5 L1019.3 854.0 L1022.1 856.4 L1025.0 855.4 L1027.9 850.9 L1030.8 844.7 L1033.7 835.5 L1036.5 820.9 L1039.4 807.0 L1042.3 800.3 L1045.2 801.0 L1048.1 802.4 L1050.9 803.9 L1053.8 806.0 L1056.7 811.0 L1059.6 822.9 L1062.5 835.2 L1065.3 842.9 L1068.2 849.3 L1071.1 854.8 L1074.0 859.4 L1076.9 863.6 L1079.7 867.9 L1082.6 871.9 L1085.5 875.1 L1088.4 877.3 L1091.3 878.0 L1094.1 876.0 L1097.0 871.9 L1099.9 867.6 L1102.8 863.0 L1105.7 857.7 L1108.5 852.3 L1111.4 847.0 L1114.3 841.5 L1117.2 835.3 L1120.1 830.2 L1122.9 828.0 L1125.8 829.9 L1128.7 834.2 L1131.6 839.9 L1134.5 849.6 L1137.3 860.7 L1140.2 870.1 L1143.1 874.4 L1146.0 876.0 L1148.9 877.1 L1151.7 878.6 L1154.6 881.2 L1157.5 883.7 L1160.4 885.0 L1163.3 883.9 L1166.1 880.7 L1169.0 876.2 L1171.9 869.9 L1174.8 858.4 L1177.7 846.4 L1180.5 837.4 L1183.4 828.2 L1186.3 819.9 L1189.2 813.6 L1192.1 810.8 L1194.9 813.3 L1197.8 821.2 L1200.7 830.6 L1203.6 838.9 L1206.5 847.9 L1209.3 856.8 L1212.2 863.8 L1215.1 868.0 L1218.0 871.7 L1220.9 874.9 L1223.7 877.4 L1226.6 879.2 L1229.5 880.0 L1232.4 879.1 L1235.3 876.1 L1238.1 871.4 L1241.0 863.5 L1243.9 844.6 L1246.8 829.2 L1249.7 821.4 L1252.5 816.6 L1255.4 820.9 L1258.3 829.4 L1261.2 821.8 L1264.1 812.4 L1266.9 816.5 L1269.8 829.1 L1272.7 844.5 L1275.6 855.6 L1278.5 863.3 L1281.3 868.8 L1284.2 872.3 L1287.1 874.9 L1290.0 876.9 L1292.9 878.7 L1295.7 880.4 L1298.6 881.5 L1301.5 881.0 L1304.4 879.3 L1307.3 876.6 L1310.1 873.5 L1313.0 869.4 L1315.9 863.4 L1318.8 858.0 L1321.7 854.5 L1324.5 851.3 L1327.4 849.2 L1330.3 849.3 L1333.2 852.3 L1336.1 856.8 L1338.9 864.7 L1341.8 873.1 L1344.7 878.3 L1347.6 880.6 L1350.5 882.2 L1353.3 883.7 L1356.2 885.4 L1359.1 887.8 L1362.0 890.4 L1364.9 892.6 L1367.7 893.9 L1370.6 893.6 L1373.5 891.6 L1376.4 888.6 L1379.3 885.2 L1382.1 881.6 L1385.0 877.1 L1387.9 870.3 L1390.8 860.9 L1393.7 855.8 L1396.5 858.3 L1399.4 864.1 L1402.3 870.2 L1405.2 874.9 L1408.1 879.6 L1410.9 884.0 L1413.8 887.7 L1416.7 890.8 L1419.6 893.6 L1422.5 896.2 L1425.3 898.5 L1428.2 900.6 L1431.1 902.9 L1434.0 905.0 L1436.9 905.8 L1439.7 903.5 L1442.6 898.1 L1445.5 891.5 L1448.4 885.4 L1451.3 879.0 L1454.1 872.0 L1457.0 864.7 L1459.9 857.1 L1462.8 849.0 L1465.7 840.6 L1468.5 832.0 L1471.4 821.9 L1474.3 811.7 L1477.2 811.3 L1480.1 820.0 L1482.9 833.8 L1485.8 852.6 L1488.7 879.0 L1491.6 882.0 L1494.5 883.5 L1497.3 885.1 L1500.2 888.3 L1503.1 891.3 L1506.0 891.7 L1508.9 888.8 L1511.7 883.7 L1514.6 877.8 L1517.5 868.8 L1520.4 857.5 L1523.3 846.2 L1526.1 834.6 L1529.0 818.1 L1531.9 797.0 L1534.8 796.3 L1537.7 796.8 L1540.5 790.5 L1543.4 782.2 L1546.3 788.2 L1549.2 807.0 L1552.1 838.1 L1554.9 849.8 L1557.8 857.9 L1560.7 863.8 L1563.6 868.9 L1566.5 873.4 L1569.3 875.9 L1572.2 875.6 L1575.1 874.2 L1578.0 871.8 L1580.9 868.5 L1583.7 855.7 L1586.6 831.1 L1589.5 808.1 L1592.4 796.3 L1595.3 788.0 L1598.1 785.1 L1601.0 793.9 L1603.9 806.4 L1606.8 812.0 L1609.7 817.7 L1612.5 830.0 L1615.4 844.0 L1618.3 853.1 L1621.2 859.6 L1624.1 865.0 L1626.9 869.3 L1629.8 872.7 L1632.7 876.0 L1635.6 878.9 L1638.5 881.3 L1641.3 883.0 L1644.2 883.6 L1647.1 882.4 L1650.0 879.1 L1652.9 874.6 L1655.7 866.8 L1658.6 853.1 L1661.5 837.1 L1664.4 822.6 L1667.3 808.2 L1670.1 792.8 L1673.0 780.9 L1675.9 776.7 L1678.8 776.7 L1681.7 777.1 L1684.5 785.5 L1687.4 797.9 L1690.3 815.3 L1693.2 834.2 L1696.1 847.5 L1698.9 857.7 L1701.8 865.6 L1704.7 870.4 L1707.6 874.1 L1710.5 875.9 L1713.3 875.0 L1716.2 871.4 L1719.1 866.1 L1722.0 860.1 L1724.9 850.7 L1727.7 837.6 L1730.6 822.5 L1733.5 806.8 L1736.4 792.1 L1739.3 776.3 L1742.1 759.0 L1745.0 747.0 L1747.9 748.2 L1750.8 765.3 L1753.7 787.7 L1756.5 803.9 L1759.4 814.9 L1762.3 824.4 L1765.2 832.6 L1768.1 840.0 L1770.9 847.5 L1773.8 854.9 L1776.7 861.4 L1779.6 865.9 L1782.5 867.6 L1785.3 865.1 L1788.2 858.9 L1791.1 851.5 L1794.0 844.2 L1796.9 835.7 L1799.7 829.6 L1802.6 825.1 L1805.5 817.1 L1808.4 803.6 L1811.3 795.5 L1814.1 801.8 L1817.0 817.3 L1819.9 832.5 L1822.8 841.4 L1825.7 848.9 L1828.5 855.2 L1831.4 860.6 L1834.3 865.7 L1837.2 870.2 L1840.1 874.0 L1842.9 876.8 L1845.8 879.1 L1848.7 881.2 L1851.6 882.6 L1854.5 883.0 L1857.3 882.2 L1860.2 880.7 L1863.1 878.6 L1866.0 874.2 L1868.9 870.0 L1871.7 867.8 L1874.6 865.8 L1877.5 864.2 L1880.4 863.1 L1883.3 862.8 L1886.1 864.7 L1889.0 868.7 L1891.9 873.4 L1894.8 877.4 L1897.7 881.2 L1900.5 885.0 L1903.4 888.5 L1906.3 891.6 L1909.2 894.1 L1912.1 896.3 L1914.9 898.7 L1917.8 901.7 L1920.7 907.2 L1923.6 909.1 L1926.5 906.2 L1929.3 901.5 L1932.2 896.6 L1935.1 890.7 L1938.0 883.8 L1940.9 877.3 L1943.7 872.4 L1946.6 867.9 L1949.5 864.7 L1952.4 864.8 L1955.3 869.2 L1958.1 876.0 L1961.0 883.1 L1963.9 888.2 L1966.8 891.5 L1969.7 894.4 L1972.5 896.9 L1975.4 899.6 L1978.3 902.6 L1981.2 905.8 L1984.1 909.1 L1986.9 912.5 L1989.8 916.5 L1992.7 916.5 L1995.6 914.5 L1998.5 911.5 L2001.3 907.2 L2004.2 899.4 L2007.1 889.7 L2010.0 880.3 L2012.9 872.9 L2015.7 866.3 L2018.6 858.9 L2021.5 847.4 L2024.4 832.7 L2027.3 824.7 L2030.1 829.9 L2033.0 843.2 L2035.9 861.6 L2038.8 881.2 L2041.7 885.7 L2044.5 888.4 L2047.4 891.1 L2050.3 894.5 L2053.2 898.0 L2056.1 900.7 L2058.9 901.7 L2061.8 898.2 L2064.7 892.5 L2067.6 887.9 L2070.5 878.3 L2073.3 861.1 L2076.2 841.1 L2079.1 822.1 L2082.0 800.1 L2084.9 779.4 L2087.7 767.1 L2090.6 762.3 L2093.5 759.5 L2096.4 766.7 L2099.3 790.1 L2102.1 809.0 L2105.0 826.4 L2107.9 838.9 L2110.8 848.2 L2113.7 855.9 L2116.5 862.2 L2119.4 867.7 L2122.3 873.1 L2125.2 876.8 L2128.1 877.1 L2130.9 874.6 L2133.8 870.3 L2136.7 863.5 L2139.6 849.7 L2142.5 833.6 L2145.3 819.7 L2148.2 805.9 L2151.1 791.1 L2154.0 770.7 L2156.9 753.9 L2159.7 765.0 L2162.6 792.7 L2165.5 815.2 L2168.4 825.4 L2171.3 833.2 L2174.1 839.9 L2177.0 846.8 L2179.9 854.4 L2182.8 861.5 L2185.7 866.6 L2188.5 870.9 L2191.4 874.2 L2194.3 875.3 L2197.2 873.5 L2200.1 869.2 L2202.9 863.4 L2205.8 855.6 L2208.7 841.5 L2211.6 823.5 L2214.5 803.0 L2217.3 777.1 L2220.2 757.2 L2223.1 741.8 L2226.0 727.4 L2228.9 715.6 L2231.7 707.6 L2234.6 705.2 L2237.5 729.3 L2240.4 772.3 L2243.3 801.5 L2246.1 810.6 L2249.0 816.8 L2251.9 821.9 L2254.8 827.6 L2257.7 835.1 L2260.5 842.9 L2263.4 848.7 L2266.3 850.2 L2269.2 847.2 L2272.1 841.2 L2274.9 833.3 L2277.8 818.6 L2280.7 796.9 L2283.6 781.7 L2286.5 771.4 L2289.3 759.3 L2292.2 736.5 L2295.1 707.3 L2298.0 683.3 L2300.9 676.4 L2303.7 695.7 L2306.6 728.4 L2309.5 756.8 L2312.4 772.7 L2315.3 785.5 L2318.1 794.4 L2318.3 794.7" stroke="#5db85a" stroke-width="1.5" fill="none" stroke-linejoin="round"/>
<path d="M178.0 985.0 L180.9 1017.2 L183.8 1040.0 L186.6 1054.9 L189.5 1063.3 L192.4 1066.7 L195.3 1063.0 L198.2 1042.8 L201.0 1015.9 L203.9 993.8 L206.8 974.6 L209.7 955.9 L212.6 937.6 L215.4 919.9 L218.3 902.6 L221.2 885.0 L224.1 864.6 L227.0 840.1 L229.8 819.7 L232.7 812.1 L235.6 832.4 L238.5 872.2 L241.4 909.8 L244.2 932.2 L247.1 950.5 L250.0 967.2 L252.9 984.2 L255.8 1006.6 L258.6 1022.2 L261.5 1018.2 L264.4 1005.1 L267.3 987.5 L270.2 969.6 L273.0 954.9 L275.9 939.4 L278.8 927.3 L281.7 923.4 L284.6 921.5 L287.4 921.4 L290.3 929.6 L293.2 945.4 L296.1 964.9 L299.0 984.0 L301.8 1001.1 L304.7 1021.0 L307.6 1041.4 L310.5 1059.2 L313.4 1071.5 L316.2 1077.2 L319.1 1081.7 L322.0 1085.4 L324.9 1087.9 L327.8 1089.0 L330.6 1083.1 L333.5 1062.3 L336.4 1031.4 L339.3 995.6 L342.2 960.0 L345.0 929.6 L347.9 900.3 L350.8 867.4 L353.7 835.3 L356.6 808.2 L359.4 790.3 L362.3 785.9 L365.2 796.6 L368.1 817.9 L371.0 844.5 L373.8 870.7 L376.7 893.6 L379.6 918.5 L382.5 944.5 L385.4 969.9 L388.2 992.7 L391.1 1011.1 L394.0 1025.1 L396.9 1038.7 L399.8 1051.5 L402.6 1062.7 L405.5 1071.9 L408.4 1078.1 L411.3 1080.8 L414.2 1069.0 L417.0 1035.0 L419.9 995.6 L422.8 968.0 L425.7 954.1 L428.6 943.7 L431.4 935.9 L434.3 928.6 L437.2 922.8 L440.1 919.8 L443.0 929.4 L445.8 961.6 L448.7 996.7 L451.6 1014.6 L454.5 1022.6 L457.4 1029.0 L460.2 1033.7 L463.1 1036.1 L466.0 1035.5 L468.9 1029.9 L471.8 1020.9 L474.6 1010.2 L477.5 996.1 L480.4 976.1 L483.3 949.4 L486.2 910.5 L489.0 871.0 L491.9 838.9 L494.8 805.5 L497.7 773.1 L500.6 745.1 L503.4 724.9 L506.3 716.1 L509.2 724.6 L512.1 751.2 L515.0 788.3 L517.8 827.9 L520.7 862.3 L523.6 893.2 L526.5 924.5 L529.4 954.4 L532.2 981.8 L535.1 1011.8 L538.0 1031.2 L540.9 1028.9 L543.8 1017.9 L546.6 1002.1 L549.5 984.9 L552.4 967.7 L555.3 944.1 L558.2 926.2 L561.0 929.0 L563.9 954.2 L566.8 981.6 L569.7 996.4 L572.6 1008.5 L575.4 1019.4 L578.3 1029.2 L581.2 1037.7 L584.1 1045.1 L587.0 1051.5 L589.8 1056.7 L592.7 1061.3 L595.6 1065.0 L598.5 1067.1 L601.4 1068.2 L604.2 1069.0 L607.1 1069.6 L610.0 1069.5 L612.9 1062.9 L615.8 1050.5 L618.6 1036.2 L621.5 1015.9 L624.4 989.7 L627.3 960.0 L630.2 929.3 L633.0 900.3 L635.9 873.3 L638.8 841.8 L641.7 811.3 L644.6 789.0 L647.4 782.3 L650.3 797.7 L653.2 828.8 L656.1 865.5 L659.0 897.8 L661.8 922.4 L664.7 945.5 L667.6 964.5 L670.5 980.9 L673.4 995.0 L676.2 1000.3 L679.1 996.8 L682.0 988.2 L684.9 976.1 L687.8 960.5 L690.6 925.9 L693.5 883.4 L696.4 853.4 L699.3 829.8 L702.2 807.1 L705.0 786.6 L707.9 769.4 L710.8 756.9 L713.7 750.2 L716.6 757.8 L719.4 804.3 L722.3 862.7 L725.2 904.5 L728.1 940.2 L731.0 968.6 L733.8 985.3 L736.7 998.1 L739.6 1004.3 L742.5 1001.9 L745.4 995.1 L748.2 983.9 L751.1 965.0 L754.0 943.5 L756.9 921.2 L759.8 896.0 L762.6 871.0 L765.5 847.6 L768.4 821.5 L771.3 794.4 L774.2 769.2 L777.0 748.4 L779.9 735.0 L782.8 732.2 L785.7 754.2 L788.6 794.7 L791.4 837.9 L794.3 869.8 L797.2 897.0 L800.1 922.0 L803.0 943.1 L805.8 959.8 L808.7 975.7 L811.6 987.8 L814.5 991.9 L817.4 986.2 L820.2 974.4 L823.1 957.0 L826.0 927.7 L828.9 893.9 L831.8 863.8 L834.6 838.0 L837.5 811.2 L840.4 790.1 L843.3 781.4 L846.2 796.7 L849.0 832.8 L851.9 874.0 L854.8 905.0 L857.7 926.8 L860.6 946.2 L863.4 963.9 L866.3 980.9 L869.2 997.8 L872.1 1012.9 L875.0 1024.6 L877.8 1035.6 L880.7 1045.1 L883.6 1050.9 L886.5 1051.7 L889.4 1051.7 L892.2 1065.2 L895.1 1087.2 L898.0 1095.7 L900.9 1083.6 L903.8 1061.7 L906.6 1040.8 L909.5 1025.9 L912.4 1011.5 L915.3 1000.2 L918.2 994.1 L921.0 990.8 L923.9 992.9 L926.8 1000.7 L929.7 1010.7 L932.6 1019.2 L935.4 1027.0 L938.3 1034.1 L941.2 1038.4 L944.1 1040.2 L947.0 1041.7 L949.8 1045.0 L952.7 1051.6 L955.6 1046.9 L958.5 1033.0 L961.4 1014.2 L964.2 992.4 L967.1 959.7 L970.0 925.6 L972.9 899.1 L975.8 876.0 L978.6 855.8 L981.5 839.1 L984.4 824.2 L987.3 808.4 L990.2 788.6 L993.0 766.3 L995.9 776.4 L998.8 797.8 L1001.7 825.9 L1004.6 856.4 L1007.4 884.6 L1010.3 912.7 L1013.2 945.3 L1016.1 976.0 L1019.0 998.5 L1021.8 1008.9 L1024.7 1012.7 L1027.6 1008.4 L1030.5 999.2 L1033.4 988.2 L1036.2 968.3 L1039.1 943.1 L1042.0 923.3 L1044.9 918.4 L1047.8 920.4 L1050.6 924.2 L1053.5 930.3 L1056.4 945.0 L1059.3 963.3 L1062.2 979.8 L1065.0 997.0 L1067.9 1013.9 L1070.8 1028.5 L1073.7 1039.6 L1076.6 1049.1 L1079.4 1057.3 L1082.3 1064.5 L1085.2 1071.5 L1088.1 1077.9 L1091.0 1080.8 L1093.8 1071.8 L1096.7 1052.8 L1099.6 1037.1 L1102.5 1028.8 L1105.4 1021.5 L1108.2 1010.5 L1111.1 985.3 L1114.0 954.1 L1116.9 932.6 L1119.8 915.6 L1122.6 900.5 L1125.5 889.6 L1128.4 885.0 L1131.3 889.6 L1134.2 901.7 L1137.0 916.5 L1139.9 929.1 L1142.8 936.0 L1145.7 940.7 L1148.6 944.9 L1151.4 950.0 L1154.3 958.6 L1157.2 971.8 L1160.1 984.2 L1163.0 990.5 L1165.8 988.8 L1168.7 983.2 L1171.6 974.9 L1174.5 965.3 L1177.4 948.3 L1180.2 922.4 L1183.1 894.4 L1186.0 870.9 L1188.9 858.5 L1191.8 851.9 L1194.6 850.4 L1197.5 857.7 L1200.4 872.4 L1203.3 891.8 L1206.2 913.1 L1209.0 933.6 L1211.9 951.2 L1214.8 969.3 L1217.7 987.9 L1220.6 1005.7 L1223.4 1021.9 L1226.3 1036.9 L1229.2 1051.3 L1232.1 1055.6 L1235.0 1051.4 L1237.8 1042.8 L1240.7 1031.2 L1243.6 1002.8 L1246.5 956.3 L1249.4 925.3 L1252.2 924.0 L1255.1 928.7 L1258.0 951.3 L1260.9 938.9 L1263.8 915.2 L1266.6 913.4 L1269.5 930.0 L1272.4 946.3 L1275.3 964.3 L1278.2 982.1 L1281.0 997.7 L1283.9 1009.3 L1286.8 1018.3 L1289.7 1025.5 L1292.6 1030.9 L1295.4 1035.8 L1298.3 1038.9 L1301.2 1037.9 L1304.1 1031.5 L1307.0 1022.5 L1309.8 1012.9 L1312.7 1000.0 L1315.6 985.6 L1318.5 972.0 L1321.4 960.3 L1324.2 950.4 L1327.1 945.8 L1330.0 942.7 L1332.9 942.4 L1335.8 948.3 L1338.6 958.7 L1341.5 970.2 L1344.4 979.4 L1347.3 985.7 L1350.2 991.2 L1353.0 996.5 L1355.9 1002.4 L1358.8 1008.8 L1361.7 1015.5 L1364.6 1022.9 L1367.4 1032.9 L1370.3 1033.4 L1373.2 1024.2 L1376.1 1015.6 L1379.0 1009.3 L1381.8 1003.0 L1384.7 995.1 L1387.6 980.8 L1390.5 954.0 L1393.4 935.6 L1396.2 937.3 L1399.1 944.9 L1402.0 955.4 L1404.9 966.0 L1407.8 975.6 L1410.6 986.4 L1413.5 997.7 L1416.4 1008.8 L1419.3 1018.7 L1422.2 1026.6 L1425.0 1033.4 L1427.9 1040.1 L1430.8 1045.9 L1433.7 1050.0 L1436.6 1051.7 L1439.4 1048.9 L1442.3 1041.1 L1445.2 1029.8 L1448.1 1016.4 L1451.0 1002.1 L1453.8 981.1 L1456.7 954.1 L1459.6 924.4 L1462.5 895.2 L1465.4 869.7 L1468.2 849.2 L1471.1 828.5 L1474.0 812.4 L1476.9 807.6 L1479.8 824.8 L1482.6 855.7 L1485.5 884.7 L1488.4 912.6 L1491.3 940.7 L1494.2 964.0 L1497.0 983.1 L1499.9 1001.7 L1502.8 1016.9 L1505.7 1025.6 L1508.6 1024.9 L1511.4 1014.4 L1514.3 998.6 L1517.2 982.2 L1520.1 963.0 L1523.0 940.6 L1525.8 918.2 L1528.7 898.1 L1531.6 876.2 L1534.5 854.3 L1537.4 836.9 L1540.2 828.3 L1543.1 831.7 L1546.0 844.3 L1548.9 876.0 L1551.8 938.6 L1554.6 968.8 L1557.5 981.7 L1560.4 992.6 L1563.3 1008.8 L1566.2 1030.3 L1569.0 1049.7 L1571.9 1062.9 L1574.8 1071.9 L1577.7 1067.9 L1580.6 1049.8 L1583.4 1024.0 L1586.3 997.0 L1589.2 963.1 L1592.1 929.2 L1595.0 897.6 L1597.8 873.7 L1600.7 873.5 L1603.6 886.8 L1606.5 906.8 L1609.4 928.4 L1612.2 946.3 L1615.1 962.9 L1618.0 979.8 L1620.9 995.6 L1623.8 1009.0 L1626.6 1018.7 L1629.5 1026.2 L1632.4 1032.4 L1635.3 1038.0 L1638.2 1043.6 L1641.0 1049.5 L1643.9 1052.9 L1646.8 1049.8 L1649.7 1039.7 L1652.6 1026.1 L1655.4 1007.9 L1658.3 980.7 L1661.2 949.4 L1664.1 918.8 L1667.0 889.5 L1669.8 861.4 L1672.7 834.4 L1675.6 807.0 L1678.5 786.3 L1681.4 779.7 L1684.2 800.8 L1687.1 842.9 L1690.0 888.7 L1692.9 921.8 L1695.8 945.1 L1698.6 965.7 L1701.5 985.7 L1704.4 1008.3 L1707.3 1037.6 L1710.2 1064.0 L1713.0 1075.3 L1715.9 1069.1 L1718.8 1054.0 L1721.7 1034.5 L1724.6 1011.6 L1727.4 977.1 L1730.3 936.5 L1733.2 896.8 L1736.1 865.1 L1739.0 842.3 L1741.8 820.6 L1744.7 804.0 L1747.6 796.8 L1750.5 808.2 L1753.4 839.4 L1756.2 879.8 L1759.1 918.6 L1762.0 945.3 L1764.9 962.2 L1767.8 976.4 L1770.6 989.2 L1773.5 1002.4 L1776.4 1018.1 L1779.3 1033.5 L1782.2 1043.9 L1785.0 1044.9 L1787.9 1034.6 L1790.8 1017.7 L1793.7 999.7 L1796.6 986.3 L1799.4 980.2 L1802.3 971.2 L1805.2 952.2 L1808.1 934.0 L1811.0 926.2 L1813.8 922.6 L1816.7 934.8 L1819.6 963.7 L1822.5 981.0 L1825.4 994.6 L1828.2 1006.4 L1831.1 1016.6 L1834.0 1025.6 L1836.9 1033.6 L1839.8 1040.9 L1842.6 1047.5 L1845.5 1053.0 L1848.4 1057.3 L1851.3 1061.1 L1854.2 1063.7 L1857.0 1063.7 L1859.9 1062.0 L1862.8 1059.1 L1865.7 1047.5 L1868.6 1030.9 L1871.4 1017.8 L1874.3 1006.9 L1877.2 996.6 L1880.1 987.4 L1883.0 979.8 L1885.8 973.8 L1888.7 969.0 L1891.6 969.5 L1894.5 976.2 L1897.4 986.2 L1900.2 996.5 L1903.1 1005.8 L1906.0 1016.1 L1908.9 1026.1 L1911.8 1034.1 L1914.6 1040.1 L1917.5 1045.8 L1920.4 1050.0 L1923.3 1051.7 L1926.2 1049.9 L1929.0 1045.3 L1931.9 1038.7 L1934.8 1031.1 L1937.7 1018.6 L1940.6 1001.5 L1943.4 983.2 L1946.3 967.1 L1949.2 949.1 L1952.1 938.0 L1955.0 941.0 L1957.8 950.8 L1960.7 963.9 L1963.6 976.9 L1966.5 987.2 L1969.4 997.0 L1972.2 1006.7 L1975.1 1015.9 L1978.0 1024.3 L1980.9 1032.3 L1983.8 1040.9 L1986.6 1048.1 L1989.5 1051.6 L1992.4 1051.1 L1995.3 1048.9 L1998.2 1045.3 L2001.0 1040.5 L2003.9 1026.9 L2006.8 1001.3 L2009.7 970.2 L2012.6 939.6 L2015.4 906.1 L2018.3 874.8 L2021.2 843.6 L2024.1 815.5 L2027.0 800.7 L2029.8 803.2 L2032.7 814.0 L2035.6 831.1 L2038.5 852.8 L2041.4 877.4 L2044.2 903.4 L2047.1 932.8 L2050.0 971.9 L2052.9 998.6 L2055.8 1021.5 L2058.6 1034.3 L2061.5 1032.1 L2064.4 1020.4 L2067.3 1003.2 L2070.2 983.9 L2073.0 955.8 L2075.9 923.1 L2078.8 895.7 L2081.7 866.5 L2084.6 837.6 L2087.4 811.8 L2090.3 791.7 L2093.2 780.3 L2096.1 782.1 L2099.0 807.4 L2101.8 846.9 L2104.7 888.2 L2107.6 918.9 L2110.5 940.9 L2113.4 960.3 L2116.2 978.7 L2119.1 997.9 L2122.0 1021.1 L2124.9 1041.8 L2127.8 1051.6 L2130.6 1046.7 L2133.5 1033.9 L2136.4 1019.3 L2139.3 1000.2 L2142.2 976.9 L2145.0 951.2 L2147.9 924.6 L2150.8 897.2 L2153.7 867.3 L2156.6 834.8 L2159.4 838.9 L2162.3 860.4 L2165.2 884.9 L2168.1 906.3 L2171.0 929.3 L2173.8 951.6 L2176.7 971.1 L2179.6 987.3 L2182.5 1001.8 L2185.4 1015.4 L2188.2 1028.8 L2191.1 1045.2 L2194.0 1059.1 L2196.9 1062.2 L2199.8 1052.9 L2202.6 1035.2 L2205.5 1012.8 L2208.4 986.6 L2211.3 943.1 L2214.2 894.8 L2217.0 859.7 L2219.9 837.3 L2222.8 816.4 L2225.7 798.1 L2228.6 783.5 L2231.4 773.9 L2234.3 770.3 L2237.2 785.3 L2240.1 820.1 L2243.0 856.5 L2245.8 886.5 L2248.7 917.4 L2251.6 946.7 L2254.5 971.6 L2257.4 995.3 L2260.2 1018.3 L2263.1 1035.2 L2266.0 1040.5 L2268.9 1034.2 L2271.8 1020.0 L2274.6 1000.6 L2277.5 977.0 L2280.4 930.9 L2283.3 880.0 L2286.2 851.2 L2289.0 830.6 L2291.9 813.1 L2294.8 800.2 L2297.7 793.3 L2300.6 795.1 L2303.4 809.0 L2306.3 830.4 L2309.2 853.9 L2312.1 876.7 L2315.0 903.3 L2317.8 932.9 L2318.3 937.8" stroke="#5593cf" stroke-width="1.5" fill="none" stroke-linejoin="round"/>
<path d="M178.0 963.0 L180.9 993.7 L183.8 1016.7 L186.6 1032.9 L189.5 1043.2 L192.4 1048.6 L195.3 1049.9 L198.2 1039.3 L201.0 1018.1 L203.9 996.3 L206.8 981.2 L209.7 968.0 L212.6 956.1 L215.4 945.3 L218.3 936.3 L221.2 927.8 L224.1 918.4 L227.0 904.8 L229.8 887.3 L232.7 879.5 L235.6 891.8 L238.5 918.1 L241.4 948.4 L244.2 972.6 L247.1 986.4 L250.0 999.1 L252.9 1010.0 L255.8 1017.7 L258.6 1021.0 L261.5 1015.2 L264.4 998.5 L267.3 976.0 L270.2 952.8 L273.0 933.1 L275.9 912.4 L278.8 894.7 L281.7 885.0 L284.6 879.5 L287.4 884.6 L290.3 900.0 L293.2 919.2 L296.1 935.9 L299.0 952.6 L301.8 970.1 L304.7 987.7 L307.6 1004.7 L310.5 1020.5 L313.4 1035.0 L316.2 1049.2 L319.1 1060.4 L322.0 1067.4 L324.9 1073.3 L327.8 1077.1 L330.6 1076.7 L333.5 1059.3 L336.4 1027.3 L339.3 988.3 L342.2 949.9 L345.0 919.7 L347.9 894.2 L350.8 867.5 L353.7 842.5 L356.6 821.9 L359.4 808.6 L362.3 805.4 L365.2 817.0 L368.1 839.6 L371.0 866.8 L373.8 891.9 L376.7 910.5 L379.6 926.9 L382.5 942.6 L385.4 958.2 L388.2 974.5 L391.1 991.9 L394.0 1009.3 L396.9 1025.7 L399.8 1039.9 L402.6 1052.3 L405.5 1064.2 L408.4 1070.8 L411.3 1064.9 L414.2 1044.6 L417.0 1018.9 L419.9 997.1 L422.8 986.4 L425.7 979.5 L428.6 976.4 L431.4 975.3 L434.3 974.6 L437.2 974.1 L440.1 975.2 L443.0 996.1 L445.8 1016.3 L448.7 1036.4 L451.6 1054.6 L454.5 1067.8 L457.4 1078.9 L460.2 1088.5 L463.1 1094.7 L466.0 1095.6 L468.9 1090.6 L471.8 1081.0 L474.6 1068.3 L477.5 1040.7 L480.4 995.4 L483.3 949.4 L486.2 914.8 L489.0 882.0 L491.9 850.6 L494.8 822.1 L497.7 797.8 L500.6 779.0 L503.4 764.2 L506.3 753.0 L509.2 754.2 L512.1 779.8 L515.0 807.0 L517.8 835.6 L520.7 865.2 L523.6 892.7 L526.5 919.9 L529.4 945.1 L532.2 962.6 L535.1 975.5 L538.0 979.2 L540.9 975.6 L543.8 968.5 L546.6 957.2 L549.5 935.7 L552.4 925.7 L555.3 918.3 L558.2 915.6 L561.0 922.8 L563.9 937.5 L566.8 955.8 L569.7 979.7 L572.6 996.3 L575.4 1010.8 L578.3 1024.0 L581.2 1035.9 L584.1 1046.7 L587.0 1056.4 L589.8 1065.1 L592.7 1072.7 L595.6 1079.2 L598.5 1085.3 L601.4 1091.4 L604.2 1099.1 L607.1 1105.7 L610.0 1106.6 L612.9 1100.6 L615.8 1090.3 L618.6 1078.4 L621.5 1062.3 L624.4 1041.2 L627.3 1015.3 L630.2 981.4 L633.0 923.1 L635.9 871.0 L638.8 853.8 L641.7 845.6 L644.6 844.2 L647.4 869.0 L650.3 903.9 L653.2 927.5 L656.1 948.9 L659.0 964.1 L661.8 973.0 L664.7 980.8 L667.6 987.2 L670.5 991.9 L673.4 994.4 L676.2 993.2 L679.1 983.9 L682.0 968.9 L684.9 951.2 L687.8 921.8 L690.6 884.9 L693.5 852.8 L696.4 824.6 L699.3 797.9 L702.2 773.7 L705.0 752.3 L707.9 729.8 L710.8 711.1 L713.7 703.6 L716.6 737.0 L719.4 781.1 L722.3 828.2 L725.2 871.2 L728.1 899.9 L731.0 921.6 L733.8 938.1 L736.7 950.4 L739.6 960.6 L742.5 963.9 L745.4 961.6 L748.2 956.4 L751.1 948.9 L754.0 939.0 L756.9 916.9 L759.8 887.7 L762.6 861.2 L765.5 840.2 L768.4 820.6 L771.3 803.6 L774.2 788.9 L777.0 774.4 L779.9 763.7 L782.8 761.1 L785.7 776.1 L788.6 805.6 L791.4 841.4 L794.3 877.5 L797.2 923.1 L800.1 952.4 L803.0 970.1 L805.8 984.1 L808.7 998.9 L811.6 1014.5 L814.5 1021.0 L817.4 1017.1 L820.2 1009.3 L823.1 998.1 L826.0 980.4 L828.9 960.5 L831.8 940.1 L834.6 917.3 L837.5 894.8 L840.4 875.1 L843.3 860.0 L846.2 866.0 L849.0 879.6 L851.9 905.2 L854.8 933.1 L857.7 962.8 L860.6 994.5 L863.4 1022.5 L866.3 1041.6 L869.2 1054.0 L872.1 1063.4 L875.0 1072.5 L877.8 1080.7 L880.7 1086.7 L883.6 1089.0 L886.5 1085.4 L889.4 1082.0 L892.2 1093.2 L895.1 1107.4 L898.0 1104.8 L900.9 1089.1 L903.8 1067.3 L906.6 1046.0 L909.5 1030.8 L912.4 1016.8 L915.3 1006.5 L918.2 1004.4 L921.0 1004.4 L923.9 1008.6 L926.8 1017.8 L929.7 1027.6 L932.6 1039.2 L935.4 1049.7 L938.3 1054.0 L941.2 1056.2 L944.1 1058.1 L947.0 1061.5 L949.8 1068.1 L952.7 1072.5 L955.6 1066.0 L958.5 1048.3 L961.4 1027.0 L964.2 1000.9 L967.1 968.6 L970.0 937.6 L972.9 910.8 L975.8 883.6 L978.6 849.1 L981.5 813.5 L984.4 798.9 L987.3 790.7 L990.2 779.9 L993.0 765.4 L995.9 788.3 L998.8 826.6 L1001.7 857.9 L1004.6 871.5 L1007.4 883.1 L1010.3 903.9 L1013.2 930.9 L1016.1 952.1 L1019.0 967.2 L1021.8 979.3 L1024.7 983.6 L1027.6 981.9 L1030.5 978.0 L1033.4 972.4 L1036.2 960.3 L1039.1 940.8 L1042.0 926.2 L1044.9 921.1 L1047.8 922.9 L1050.6 926.7 L1053.5 932.0 L1056.4 948.8 L1059.3 975.2 L1062.2 994.3 L1065.0 1010.0 L1067.9 1024.1 L1070.8 1036.8 L1073.7 1048.6 L1076.6 1059.5 L1079.4 1069.4 L1082.3 1078.1 L1085.2 1086.4 L1088.1 1094.0 L1091.0 1097.5 L1093.8 1090.9 L1096.7 1076.3 L1099.6 1062.0 L1102.5 1050.4 L1105.4 1039.1 L1108.2 1026.9 L1111.1 1012.8 L1114.0 993.1 L1116.9 972.9 L1119.8 959.7 L1122.6 950.0 L1125.5 942.5 L1128.4 939.2 L1131.3 947.3 L1134.2 964.2 L1137.0 976.2 L1139.9 985.8 L1142.8 993.7 L1145.7 999.2 L1148.6 1003.4 L1151.4 1007.0 L1154.3 1010.5 L1157.2 1014.8 L1160.1 1018.2 L1163.0 1016.3 L1165.8 1009.2 L1168.7 998.2 L1171.6 984.9 L1174.5 970.6 L1177.4 950.1 L1180.2 921.9 L1183.1 892.1 L1186.0 866.7 L1188.9 848.1 L1191.8 832.1 L1194.6 827.2 L1197.5 833.2 L1200.4 845.2 L1203.3 863.0 L1206.2 889.0 L1209.0 910.1 L1211.9 929.5 L1214.8 947.5 L1217.7 964.2 L1220.6 980.2 L1223.4 996.1 L1226.3 1010.5 L1229.2 1021.6 L1232.1 1029.4 L1235.0 1032.1 L1237.8 1029.5 L1240.7 1024.6 L1243.6 1005.5 L1246.5 970.7 L1249.4 947.0 L1252.2 952.5 L1255.1 970.2 L1258.0 981.9 L1260.9 969.8 L1263.8 954.5 L1266.6 957.3 L1269.5 964.9 L1272.4 981.6 L1275.3 1002.8 L1278.2 1022.1 L1281.0 1033.2 L1283.9 1039.1 L1286.8 1043.7 L1289.7 1047.1 L1292.6 1049.7 L1295.4 1051.9 L1298.3 1053.0 L1301.2 1050.9 L1304.1 1044.7 L1307.0 1036.3 L1309.8 1026.5 L1312.7 1011.4 L1315.6 993.5 L1318.5 976.0 L1321.4 959.8 L1324.2 945.3 L1327.1 939.4 L1330.0 935.4 L1332.9 933.6 L1335.8 937.5 L1338.6 948.8 L1341.5 961.9 L1344.4 971.0 L1347.3 975.2 L1350.2 978.3 L1353.0 981.3 L1355.9 985.6 L1358.8 992.5 L1361.7 1001.0 L1364.6 1009.1 L1367.4 1018.2 L1370.3 1020.7 L1373.2 1017.1 L1376.1 1011.0 L1379.0 1004.6 L1381.8 997.1 L1384.7 987.4 L1387.6 971.8 L1390.5 944.5 L1393.4 925.9 L1396.2 927.7 L1399.1 935.7 L1402.0 946.0 L1404.9 958.2 L1407.8 974.7 L1410.6 989.2 L1413.5 998.9 L1416.4 1006.8 L1419.3 1013.9 L1422.2 1020.9 L1425.0 1028.2 L1427.9 1035.2 L1430.8 1041.0 L1433.7 1046.3 L1436.6 1050.0 L1439.4 1048.3 L1442.3 1039.3 L1445.2 1025.9 L1448.1 1010.6 L1451.0 987.9 L1453.8 960.2 L1456.7 932.5 L1459.6 902.3 L1462.5 872.8 L1465.4 847.1 L1468.2 820.0 L1471.1 795.5 L1474.0 779.6 L1476.9 778.5 L1479.8 795.4 L1482.6 823.9 L1485.5 856.0 L1488.4 884.0 L1491.3 904.4 L1494.2 923.1 L1497.0 941.0 L1499.9 959.5 L1502.8 983.4 L1505.7 997.5 L1508.6 994.5 L1511.4 987.4 L1514.3 977.8 L1517.2 959.4 L1520.1 938.8 L1523.0 919.5 L1525.8 900.3 L1528.7 881.5 L1531.6 860.1 L1534.5 851.5 L1537.4 851.2 L1540.2 847.0 L1543.1 842.1 L1546.0 872.9 L1548.9 911.2 L1551.8 940.2 L1554.6 966.0 L1557.5 989.2 L1560.4 1008.5 L1563.3 1023.7 L1566.2 1038.2 L1569.0 1050.7 L1571.9 1059.1 L1574.8 1061.2 L1577.7 1056.1 L1580.6 1045.2 L1583.4 1030.0 L1586.3 1012.4 L1589.2 985.1 L1592.1 946.8 L1595.0 914.5 L1597.8 888.1 L1600.7 887.8 L1603.6 893.7 L1606.5 903.0 L1609.4 915.3 L1612.2 945.2 L1615.1 969.6 L1618.0 982.5 L1620.9 992.5 L1623.8 1002.3 L1626.6 1012.9 L1629.5 1021.4 L1632.4 1025.1 L1635.3 1026.6 L1638.2 1028.2 L1641.0 1033.7 L1643.9 1043.0 L1646.8 1041.2 L1649.7 1034.1 L1652.6 1023.9 L1655.4 1007.6 L1658.3 979.3 L1661.2 948.2 L1664.1 919.3 L1667.0 889.2 L1669.8 861.4 L1672.7 833.5 L1675.6 804.7 L1678.5 782.7 L1681.4 775.6 L1684.2 793.0 L1687.1 827.7 L1690.0 865.5 L1692.9 892.9 L1695.8 911.7 L1698.6 928.3 L1701.5 945.3 L1704.4 966.4 L1707.3 997.1 L1710.2 1022.2 L1713.0 1025.9 L1715.9 1020.2 L1718.8 1011.2 L1721.7 1000.6 L1724.6 985.4 L1727.4 967.1 L1730.3 947.8 L1733.2 927.5 L1736.1 904.2 L1739.0 881.2 L1741.8 862.0 L1744.7 847.7 L1747.6 851.0 L1750.5 861.8 L1753.4 877.9 L1756.2 897.0 L1759.1 917.2 L1762.0 946.8 L1764.9 974.6 L1767.8 994.5 L1770.6 1011.0 L1773.5 1024.1 L1776.4 1036.5 L1779.3 1046.8 L1782.2 1051.6 L1785.0 1047.8 L1787.9 1036.5 L1790.8 1022.2 L1793.7 1007.7 L1796.6 990.2 L1799.4 979.0 L1802.3 973.6 L1805.2 966.0 L1808.1 937.7 L1811.0 911.2 L1813.8 893.9 L1816.7 906.1 L1819.6 936.0 L1822.5 953.0 L1825.4 966.2 L1828.2 977.5 L1831.1 987.1 L1834.0 995.0 L1836.9 1002.1 L1839.8 1009.0 L1842.6 1015.2 L1845.5 1020.3 L1848.4 1023.8 L1851.3 1025.4 L1854.2 1025.9 L1857.0 1026.3 L1859.9 1026.6 L1862.8 1026.7 L1865.7 1019.9 L1868.6 999.2 L1871.4 985.1 L1874.3 977.6 L1877.2 971.6 L1880.1 966.1 L1883.0 959.8 L1885.8 952.4 L1888.7 948.9 L1891.6 954.9 L1894.5 968.4 L1897.4 984.1 L1900.2 996.7 L1903.1 1003.5 L1906.0 1008.4 L1908.9 1012.8 L1911.8 1017.5 L1914.6 1023.9 L1917.5 1031.4 L1920.4 1036.8 L1923.3 1037.2 L1926.2 1032.2 L1929.0 1024.0 L1931.9 1014.9 L1934.8 1003.1 L1937.7 987.9 L1940.6 971.0 L1943.4 954.4 L1946.3 939.6 L1949.2 923.2 L1952.1 913.0 L1955.0 917.9 L1957.8 932.5 L1960.7 949.7 L1963.6 963.7 L1966.5 977.8 L1969.4 991.3 L1972.2 1001.8 L1975.1 1008.0 L1978.0 1012.8 L1980.9 1016.7 L1983.8 1020.1 L1986.6 1023.2 L1989.5 1026.2 L1992.4 1029.3 L1995.3 1029.0 L1998.2 1027.7 L2001.0 1025.4 L2003.9 1016.5 L2006.8 979.2 L2009.7 940.3 L2012.6 910.0 L2015.4 881.5 L2018.3 855.3 L2021.2 826.3 L2024.1 799.6 L2027.0 785.4 L2029.8 791.7 L2032.7 813.8 L2035.6 844.0 L2038.5 874.4 L2041.4 899.1 L2044.2 925.3 L2047.1 949.9 L2050.0 967.5 L2052.9 975.8 L2055.8 981.8 L2058.6 984.8 L2061.5 983.3 L2064.4 976.1 L2067.3 964.8 L2070.2 950.8 L2073.0 924.4 L2075.9 894.5 L2078.8 865.0 L2081.7 841.5 L2084.6 818.3 L2087.4 798.7 L2090.3 786.5 L2093.2 785.5 L2096.1 797.4 L2099.0 819.0 L2101.8 846.9 L2104.7 877.6 L2107.6 907.5 L2110.5 933.4 L2113.4 958.9 L2116.2 983.7 L2119.1 1004.4 L2122.0 1024.9 L2124.9 1042.2 L2127.8 1050.2 L2130.6 1046.6 L2133.5 1036.3 L2136.4 1022.5 L2139.3 1007.1 L2142.2 985.5 L2145.0 961.8 L2147.9 939.0 L2150.8 914.9 L2153.7 896.2 L2156.6 886.9 L2159.4 893.1 L2162.3 912.3 L2165.2 936.8 L2168.1 968.3 L2171.0 993.1 L2173.8 1007.8 L2176.7 1019.6 L2179.6 1029.6 L2182.5 1038.7 L2185.4 1048.4 L2188.2 1058.0 L2191.1 1065.6 L2194.0 1069.5 L2196.9 1067.7 L2199.8 1059.6 L2202.6 1047.0 L2205.5 1028.9 L2208.4 989.0 L2211.3 944.8 L2214.2 907.6 L2217.0 872.9 L2219.9 844.1 L2222.8 814.8 L2225.7 786.7 L2228.6 762.8 L2231.4 746.2 L2234.3 739.7 L2237.2 754.5 L2240.1 791.2 L2243.0 835.3 L2245.8 872.3 L2248.7 899.5 L2251.6 924.1 L2254.5 943.8 L2257.4 960.9 L2260.2 977.2 L2263.1 990.0 L2266.0 997.0 L2268.9 996.2 L2271.8 990.0 L2274.6 979.9 L2277.5 966.0 L2280.4 935.9 L2283.3 904.3 L2286.2 873.5 L2289.0 851.9 L2291.9 833.6 L2294.8 817.9 L2297.7 807.2 L2300.6 803.7 L2303.4 812.2 L2306.3 830.9 L2309.2 853.7 L2312.1 878.1 L2315.0 909.2 L2317.8 945.5 L2318.3 951.7" stroke="#e63a45" stroke-width="1.5" fill="none" stroke-linejoin="round"/>
<path d="M178.3 897.5 L181.2 903.8 L184.1 907.1 L186.9 908.4 L189.8 908.6 L192.7 905.0 L195.6 895.9 L198.5 885.1 L201.3 875.8 L204.2 865.7 L207.1 855.3 L210.0 846.4 L212.9 840.7 L215.7 837.4 L218.6 834.4 L221.5 832.0 L224.4 830.3 L227.3 829.5 L230.1 831.3 L233.0 840.3 L235.9 853.9 L238.8 869.2 L241.7 883.0 L244.5 892.2 L247.4 896.8 L250.3 900.8 L253.2 904.2 L256.1 906.4 L258.9 907.2 L261.8 904.3 L264.7 896.9 L267.6 886.9 L270.5 875.9 L273.3 865.9 L276.2 858.5 L279.1 855.3 L282.0 853.8 L284.9 853.0 L287.7 854.6 L290.6 859.9 L293.5 867.6 L296.4 876.6 L299.3 885.7 L302.1 893.5 L305.0 899.3 L307.9 904.7 L310.8 909.7 L313.7 914.4 L316.5 918.7 L319.4 923.2 L322.3 927.9 L325.2 931.3 L328.1 931.3 L330.9 923.7 L333.8 910.4 L336.7 895.2 L339.6 881.6 L342.5 870.6 L345.3 859.7 L348.2 849.7 L351.1 841.4 L354.0 833.1 L356.9 826.7 L359.7 825.5 L362.6 833.7 L365.5 848.4 L368.4 865.2 L371.3 879.7 L374.1 888.4 L377.0 894.8 L379.9 900.3 L382.8 905.2 L385.7 909.8 L388.5 914.5 L391.4 919.6 L394.3 924.6 L397.2 929.0 L400.1 932.2 L402.9 933.6 L405.8 927.8 L408.7 910.9 L411.6 889.1 L414.5 868.9 L417.3 856.7 L420.2 850.3 L423.1 845.1 L426.0 842.2 L428.9 843.1 L431.7 848.4 L434.6 856.4 L437.5 865.1 L440.4 872.9 L443.3 879.4 L446.1 886.0 L449.0 893.6 L451.9 903.8 L454.8 922.7 L457.7 945.4 L460.5 963.8 L463.4 969.9 L466.3 964.0 L469.2 953.2 L472.1 939.4 L474.9 920.9 L477.8 905.8 L480.7 891.6 L483.6 878.2 L486.5 866.4 L489.3 856.8 L492.2 849.1 L495.1 841.6 L498.0 834.9 L500.9 829.8 L503.7 827.0 L506.6 830.2 L509.5 848.6 L512.4 871.3 L515.3 885.7 L518.1 891.5 L521.0 895.9 L523.9 900.7 L526.8 906.9 L529.7 913.0 L532.5 917.4 L535.4 917.5 L538.3 909.9 L541.2 902.0 L544.1 893.9 L546.9 885.3 L549.8 877.0 L552.7 869.7 L555.6 864.3 L558.5 860.8 L561.3 858.7 L564.2 860.1 L567.1 865.8 L570.0 874.2 L572.9 883.7 L575.7 892.8 L578.6 899.8 L581.5 904.5 L584.4 908.4 L587.3 912.0 L590.1 915.8 L593.0 920.1 L595.9 925.4 L598.8 931.3 L601.7 936.9 L604.5 941.4 L607.4 945.3 L610.3 943.3 L613.2 929.5 L616.1 914.8 L618.9 898.9 L621.8 885.6 L624.7 876.4 L627.6 867.5 L630.5 859.2 L633.3 851.8 L636.2 845.8 L639.1 841.2 L642.0 838.6 L644.9 838.7 L647.7 849.4 L650.6 867.0 L653.5 883.9 L656.4 894.1 L659.3 901.7 L662.1 907.9 L665.0 912.8 L667.9 917.1 L670.8 920.6 L673.7 921.7 L676.5 916.9 L679.4 907.4 L682.3 896.9 L685.2 883.7 L688.1 866.3 L690.9 847.5 L693.8 829.6 L696.7 815.3 L699.6 806.9 L702.5 805.9 L705.3 806.4 L708.2 807.6 L711.1 809.3 L714.0 819.5 L716.9 848.8 L719.7 872.7 L722.6 883.2 L725.5 889.9 L728.4 895.2 L731.3 900.0 L734.1 903.9 L737.0 906.7 L739.9 907.9 L742.8 906.9 L745.7 903.0 L748.5 897.7 L751.4 892.3 L754.3 885.8 L757.2 878.0 L760.1 869.3 L762.9 859.5 L765.8 847.6 L768.7 833.2 L771.6 817.9 L774.5 802.7 L777.3 785.5 L780.2 771.0 L783.1 788.0 L786.0 829.9 L788.9 869.3 L791.7 879.5 L794.6 885.3 L797.5 890.6 L800.4 895.7 L803.3 900.0 L806.1 902.9 L809.0 903.7 L811.9 902.5 L814.8 899.6 L817.7 895.5 L820.5 890.8 L823.4 883.7 L826.3 872.3 L829.2 859.9 L832.1 849.8 L834.9 841.3 L837.8 833.7 L840.7 830.0 L843.6 834.8 L846.5 848.0 L849.3 864.0 L852.2 877.1 L855.1 884.6 L858.0 891.2 L860.9 896.9 L863.7 901.3 L866.6 904.2 L869.5 905.5 L872.4 906.4 L875.3 907.7 L878.1 909.5 L881.0 911.6 L883.9 913.7 L886.8 916.5 L889.7 919.5 L892.5 921.9 L895.4 922.1 L898.3 913.9 L901.2 900.7 L904.1 889.8 L906.9 882.0 L909.8 874.8 L912.7 870.3 L915.6 870.8 L918.5 877.0 L921.3 886.5 L924.2 896.3 L927.1 903.8 L930.0 909.4 L932.9 914.5 L935.7 919.1 L938.6 923.7 L941.5 928.3 L944.4 933.0 L947.3 939.2 L950.1 944.9 L953.0 944.4 L955.9 933.4 L958.8 920.3 L961.7 907.7 L964.5 893.6 L967.4 879.7 L970.3 867.8 L973.2 859.6 L976.1 853.6 L978.9 848.1 L981.8 843.6 L984.7 840.8 L987.6 840.1 L990.5 844.1 L993.3 850.9 L996.2 863.2 L999.1 878.0 L1002.0 887.5 L1004.9 894.3 L1007.7 900.1 L1010.6 904.2 L1013.5 906.2 L1016.4 907.2 L1019.3 907.9 L1022.1 907.4 L1025.0 901.2 L1027.9 891.8 L1030.8 882.6 L1033.7 872.5 L1036.5 863.5 L1039.4 854.8 L1042.3 849.3 L1045.2 849.7 L1048.1 852.5 L1050.9 856.4 L1053.8 862.2 L1056.7 872.7 L1059.6 884.7 L1062.5 894.3 L1065.3 899.2 L1068.2 902.9 L1071.1 905.9 L1074.0 908.6 L1076.9 911.3 L1079.7 913.6 L1082.6 915.5 L1085.5 917.7 L1088.4 921.1 L1091.3 930.9 L1094.1 923.3 L1097.0 909.0 L1099.9 901.1 L1102.8 894.7 L1105.7 888.6 L1108.5 881.7 L1111.4 874.5 L1114.3 868.1 L1117.2 863.4 L1120.1 861.4 L1122.9 862.8 L1125.8 866.6 L1128.7 871.2 L1131.6 877.9 L1134.5 886.8 L1137.3 896.4 L1140.2 905.1 L1143.1 911.6 L1146.0 915.5 L1148.9 919.1 L1151.7 922.4 L1154.6 924.9 L1157.5 926.7 L1160.4 927.4 L1163.3 923.7 L1166.1 914.4 L1169.0 904.9 L1171.9 896.0 L1174.8 885.5 L1177.7 874.6 L1180.5 864.2 L1183.4 855.4 L1186.3 849.0 L1189.2 846.1 L1192.1 847.7 L1194.9 853.6 L1197.8 862.1 L1200.7 871.8 L1203.6 881.1 L1206.5 889.1 L1209.3 898.1 L1212.2 906.0 L1215.1 910.3 L1218.0 912.4 L1220.9 914.1 L1223.7 915.4 L1226.6 916.1 L1229.5 916.0 L1232.4 911.8 L1235.3 904.4 L1238.1 896.1 L1241.0 888.4 L1243.9 878.5 L1246.8 867.9 L1249.7 859.3 L1252.5 855.1 L1255.4 855.3 L1258.3 856.2 L1261.2 857.9 L1264.1 860.2 L1266.9 872.2 L1269.8 890.5 L1272.7 900.1 L1275.6 903.9 L1278.5 906.6 L1281.3 908.7 L1284.2 910.4 L1287.1 912.0 L1290.0 913.6 L1292.9 914.8 L1295.7 915.5 L1298.6 915.3 L1301.5 913.7 L1304.4 911.2 L1307.3 907.7 L1310.1 901.5 L1313.0 894.4 L1315.9 888.2 L1318.8 881.5 L1321.7 875.1 L1324.5 870.7 L1327.4 870.1 L1330.3 874.3 L1333.2 881.6 L1336.1 889.9 L1338.9 897.1 L1341.8 901.7 L1344.7 905.3 L1347.6 908.4 L1350.5 911.5 L1353.3 914.7 L1356.2 918.5 L1359.1 924.0 L1362.0 931.6 L1364.9 938.6 L1367.7 942.0 L1370.6 938.4 L1373.5 929.7 L1376.4 920.7 L1379.3 910.2 L1382.1 899.5 L1385.0 887.2 L1387.9 874.1 L1390.8 864.2 L1393.7 861.7 L1396.5 868.2 L1399.4 879.5 L1402.3 890.5 L1405.2 898.5 L1408.1 905.9 L1410.9 913.1 L1413.8 920.0 L1416.7 926.7 L1419.6 933.1 L1422.5 939.2 L1425.3 945.8 L1428.2 953.6 L1431.1 961.3 L1434.0 970.0 L1436.9 975.0 L1439.7 970.5 L1442.6 959.6 L1445.5 948.1 L1448.4 935.5 L1451.3 921.1 L1454.1 906.6 L1457.0 893.7 L1459.9 883.0 L1462.8 871.8 L1465.7 861.1 L1468.5 852.0 L1471.4 845.7 L1474.3 843.3 L1477.2 848.7 L1480.1 861.4 L1482.9 875.5 L1485.8 887.3 L1488.7 899.2 L1491.6 911.0 L1494.5 921.7 L1497.3 933.3 L1500.2 944.3 L1503.1 951.0 L1506.0 948.8 L1508.9 935.0 L1511.7 916.9 L1514.6 901.7 L1517.5 887.6 L1520.4 873.5 L1523.3 860.4 L1526.1 849.7 L1529.0 842.0 L1531.9 836.6 L1534.8 837.5 L1537.7 841.2 L1540.5 846.0 L1543.4 853.9 L1546.3 864.8 L1549.2 876.1 L1552.1 885.5 L1554.9 891.8 L1557.8 897.1 L1560.7 901.8 L1563.6 905.9 L1566.5 909.4 L1569.3 912.6 L1572.2 911.9 L1575.1 908.2 L1578.0 902.4 L1580.9 895.4 L1583.7 882.8 L1586.6 863.3 L1589.5 843.1 L1592.4 822.9 L1595.3 802.1 L1598.1 794.4 L1601.0 815.8 L1603.9 870.0 L1606.8 884.4 L1609.7 890.2 L1612.5 893.8 L1615.4 896.8 L1618.3 900.1 L1621.2 902.9 L1624.1 905.3 L1626.9 907.5 L1629.8 909.6 L1632.7 911.9 L1635.6 914.5 L1638.5 917.6 L1641.3 922.5 L1644.2 926.5 L1647.1 923.4 L1650.0 912.7 L1652.9 902.2 L1655.7 892.5 L1658.6 882.5 L1661.5 872.3 L1664.4 862.2 L1667.3 850.7 L1670.1 837.3 L1673.0 826.4 L1675.9 822.5 L1678.8 827.0 L1681.7 836.6 L1684.5 848.2 L1687.4 863.1 L1690.3 881.5 L1693.2 892.3 L1696.1 898.4 L1698.9 903.1 L1701.8 907.8 L1704.7 914.0 L1707.6 925.9 L1710.5 937.6 L1713.3 936.8 L1716.2 924.5 L1719.1 909.1 L1722.0 896.6 L1724.9 884.0 L1727.7 871.5 L1730.6 859.4 L1733.5 848.0 L1736.4 835.2 L1739.3 823.5 L1742.1 818.3 L1745.0 824.6 L1747.9 839.2 L1750.8 854.9 L1753.7 866.1 L1756.5 876.9 L1759.4 887.0 L1762.3 895.1 L1765.2 900.2 L1768.1 903.5 L1770.9 906.3 L1773.8 908.7 L1776.7 910.4 L1779.6 911.3 L1782.5 910.7 L1785.3 906.2 L1788.2 899.2 L1791.1 892.0 L1794.0 885.8 L1796.9 879.3 L1799.7 872.7 L1802.6 866.5 L1805.5 861.1 L1808.4 855.3 L1811.3 852.0 L1814.1 865.7 L1817.0 883.0 L1819.9 891.9 L1822.8 899.0 L1825.7 904.5 L1828.5 908.5 L1831.4 911.4 L1834.3 913.6 L1837.2 915.7 L1840.1 918.2 L1842.9 921.8 L1845.8 926.5 L1848.7 931.5 L1851.6 937.9 L1854.5 940.6 L1857.3 939.3 L1860.2 936.4 L1863.1 930.5 L1866.0 909.2 L1868.9 896.2 L1871.7 891.0 L1874.6 888.0 L1877.5 885.7 L1880.4 884.1 L1883.3 883.6 L1886.1 885.9 L1889.0 891.0 L1891.9 897.6 L1894.8 904.5 L1897.7 911.7 L1900.5 920.2 L1903.4 929.6 L1906.3 939.7 L1909.2 951.1 L1912.1 963.2 L1914.9 974.8 L1917.8 987.7 L1920.7 999.6 L1923.6 1002.7 L1926.5 996.7 L1929.3 986.0 L1932.2 974.1 L1935.1 959.0 L1938.0 941.3 L1940.9 925.5 L1943.7 908.5 L1946.6 892.7 L1949.5 883.1 L1952.4 883.4 L1955.3 889.3 L1958.1 898.0 L1961.0 907.2 L1963.9 915.3 L1966.8 923.8 L1969.7 932.7 L1972.5 942.0 L1975.4 951.4 L1978.3 961.7 L1981.2 972.3 L1984.1 982.2 L1986.9 991.2 L1989.8 1000.1 L1992.7 1004.4 L1995.6 1000.5 L1998.5 990.6 L2001.3 977.9 L2004.2 961.9 L2007.1 939.7 L2010.0 920.1 L2012.9 904.4 L2015.7 888.5 L2018.6 874.1 L2021.5 862.8 L2024.4 856.1 L2027.3 856.2 L2030.1 865.9 L2033.0 880.6 L2035.9 894.6 L2038.8 906.6 L2041.7 918.8 L2044.5 930.1 L2047.4 939.7 L2050.3 949.7 L2053.2 958.2 L2056.1 962.6 L2058.9 960.0 L2061.8 950.0 L2064.7 936.4 L2067.6 920.6 L2070.5 898.1 L2073.3 878.0 L2076.2 860.1 L2079.1 842.2 L2082.0 827.4 L2084.9 818.4 L2087.7 819.4 L2090.6 833.4 L2093.5 845.7 L2096.4 856.4 L2099.3 867.8 L2102.1 878.9 L2105.0 888.1 L2107.9 894.4 L2110.8 899.5 L2113.7 903.5 L2116.5 906.6 L2119.4 909.6 L2122.3 911.8 L2125.2 912.8 L2128.1 910.7 L2130.9 905.2 L2133.8 898.0 L2136.7 889.1 L2139.6 873.8 L2142.5 856.1 L2145.3 840.7 L2148.2 832.6 L2151.1 834.2 L2154.0 841.2 L2156.9 850.5 L2159.7 859.3 L2162.6 866.7 L2165.5 873.8 L2168.4 880.5 L2171.3 887.4 L2174.1 893.9 L2177.0 899.8 L2179.9 904.5 L2182.8 907.8 L2185.7 910.5 L2188.5 912.8 L2191.4 914.4 L2194.3 914.9 L2197.2 912.1 L2200.1 905.9 L2202.9 898.0 L2205.8 889.9 L2208.7 880.4 L2211.6 867.8 L2214.5 853.9 L2217.3 840.2 L2220.2 828.4 L2223.1 820.2 L2226.0 817.0 L2228.9 818.7 L2231.7 823.2 L2234.6 829.2 L2237.5 840.1 L2240.4 858.6 L2243.3 877.1 L2246.1 888.1 L2249.0 893.1 L2251.9 897.5 L2254.8 901.1 L2257.7 903.8 L2260.5 905.4 L2263.4 905.7 L2266.3 903.5 L2269.2 899.1 L2272.1 893.6 L2274.9 887.8 L2277.8 879.3 L2280.7 868.3 L2283.6 855.9 L2286.5 843.3 L2289.3 831.6 L2292.2 822.2 L2295.1 816.0 L2298.0 814.4 L2300.9 821.9 L2303.7 834.7 L2306.6 847.1 L2309.5 861.6 L2312.4 875.2 L2315.3 884.1 L2318.1 889.8 L2318.3 890.0" stroke="#f6942e" stroke-width="1.5" fill="none" stroke-linejoin="round" stroke-dasharray="28 16"/>
<path d="M178.3 893.0 L181.2 899.3 L184.1 902.6 L186.9 903.8 L189.8 904.0 L192.7 900.5 L195.6 891.6 L198.5 881.0 L201.3 871.8 L204.2 861.5 L207.1 850.9 L210.0 841.9 L212.9 836.2 L215.7 833.1 L218.6 830.5 L221.5 828.3 L224.4 826.8 L227.3 826.1 L230.1 827.8 L233.0 836.8 L235.9 850.3 L238.8 865.5 L241.7 879.1 L244.5 888.2 L247.4 892.7 L250.3 896.7 L253.2 900.0 L256.1 902.2 L258.9 903.0 L261.8 900.0 L264.7 892.4 L267.6 882.1 L270.5 870.9 L273.3 860.7 L276.2 853.4 L279.1 850.6 L282.0 849.5 L284.9 849.0 L287.7 850.6 L290.6 855.8 L293.5 863.6 L296.4 872.6 L299.3 881.6 L302.1 889.5 L305.0 895.4 L307.9 900.8 L310.8 905.9 L313.7 910.7 L316.5 915.1 L319.4 919.5 L322.3 924.0 L325.2 927.3 L328.1 927.3 L330.9 919.5 L333.8 906.0 L336.7 890.4 L339.6 876.6 L342.5 865.7 L345.3 854.9 L348.2 844.9 L351.1 836.3 L354.0 827.3 L356.9 820.2 L359.7 818.8 L362.6 827.2 L365.5 842.4 L368.4 859.7 L371.3 874.6 L374.1 883.5 L377.0 890.0 L379.9 895.6 L382.8 900.6 L385.7 905.3 L388.5 910.1 L391.4 915.5 L394.3 920.7 L397.2 925.2 L400.1 928.5 L402.9 930.0 L405.8 924.1 L408.7 906.7 L411.6 884.3 L414.5 863.8 L417.3 851.7 L420.2 845.6 L423.1 840.8 L426.0 838.2 L428.9 839.1 L431.7 844.4 L434.6 852.4 L437.5 861.1 L440.4 868.9 L443.3 875.4 L446.1 882.0 L449.0 889.6 L451.9 899.8 L454.8 918.5 L457.7 940.8 L460.5 958.9 L463.4 964.9 L466.3 959.0 L469.2 948.2 L472.1 934.4 L474.9 915.9 L477.8 900.8 L480.7 886.5 L483.6 873.2 L486.5 861.4 L489.3 851.8 L492.2 844.1 L495.1 836.7 L498.0 830.1 L500.9 825.1 L503.7 822.3 L506.6 825.5 L509.5 843.6 L512.4 866.2 L515.3 880.7 L518.1 887.0 L521.0 891.7 L523.9 896.7 L526.8 903.2 L529.7 909.6 L532.5 914.0 L535.4 914.1 L538.3 905.5 L541.2 896.7 L544.1 887.7 L546.9 878.2 L549.8 869.1 L552.7 861.5 L555.6 856.2 L558.5 853.6 L561.3 852.1 L564.2 853.6 L567.1 859.4 L570.0 868.0 L572.9 877.8 L575.7 887.1 L578.6 894.5 L581.5 899.5 L584.4 903.8 L587.3 907.7 L590.1 911.8 L593.0 916.4 L595.9 922.0 L598.8 928.1 L601.7 934.0 L604.5 938.8 L607.4 943.3 L610.3 940.9 L613.2 925.3 L616.1 909.6 L618.9 893.8 L621.8 880.6 L624.7 871.0 L627.6 861.6 L630.5 852.8 L633.3 844.9 L636.2 838.4 L639.1 833.5 L642.0 830.6 L644.9 830.8 L647.7 842.1 L650.6 860.8 L653.5 878.7 L656.4 889.1 L659.3 896.7 L662.1 903.0 L665.0 908.0 L667.9 912.7 L670.8 916.6 L673.7 917.9 L676.5 912.6 L679.4 902.3 L682.3 892.0 L685.2 882.0 L688.1 870.8 L690.9 859.2 L693.8 847.8 L696.7 837.3 L699.6 828.5 L702.5 821.6 L705.3 814.9 L708.2 809.3 L711.1 806.2 L714.0 814.4 L716.9 843.6 L719.7 868.2 L722.6 879.7 L725.5 887.0 L728.4 892.2 L731.3 896.8 L734.1 900.4 L737.0 902.5 L739.9 902.9 L742.8 901.0 L745.7 897.3 L748.5 892.6 L751.4 887.1 L754.3 879.1 L757.2 868.4 L760.1 855.1 L762.9 839.1 L765.8 812.4 L768.7 776.6 L771.6 743.8 L774.5 717.0 L777.3 691.4 L780.2 677.5 L783.1 693.6 L786.0 741.8 L788.9 805.4 L791.7 855.9 L794.6 872.1 L797.5 881.3 L800.4 888.7 L803.3 894.8 L806.1 898.8 L809.0 900.0 L811.9 898.6 L814.8 895.6 L817.7 891.2 L820.5 885.9 L823.4 877.6 L826.3 863.6 L829.2 846.7 L832.1 829.7 L834.9 808.4 L837.8 784.5 L840.7 768.1 L843.6 773.3 L846.5 809.6 L849.3 845.6 L852.2 860.8 L855.1 873.2 L858.0 883.7 L860.9 892.0 L863.7 898.1 L866.6 901.7 L869.5 903.3 L872.4 904.3 L875.3 905.6 L878.1 906.9 L881.0 908.4 L883.9 910.2 L886.8 913.1 L889.7 916.5 L892.5 919.2 L895.4 919.5 L898.3 909.2 L901.2 892.9 L904.1 879.8 L906.9 870.7 L909.8 865.6 L912.7 867.3 L915.6 872.3 L918.5 879.2 L921.3 887.1 L924.2 894.6 L927.1 900.7 L930.0 905.8 L932.9 910.5 L935.7 915.1 L938.6 919.6 L941.5 924.4 L944.4 929.4 L947.3 936.1 L950.1 942.7 L953.0 942.4 L955.9 931.0 L958.8 917.2 L961.7 903.6 L964.5 888.3 L967.4 872.9 L970.3 859.4 L973.2 849.5 L976.1 841.6 L978.9 834.4 L981.8 829.1 L984.7 826.7 L987.6 829.7 L990.5 837.7 L993.3 847.1 L996.2 860.3 L999.1 875.0 L1002.0 884.5 L1004.9 890.9 L1007.7 896.2 L1010.6 900.6 L1013.5 904.7 L1016.4 909.0 L1019.3 909.6 L1022.1 906.1 L1025.0 900.2 L1027.9 893.1 L1030.8 886.0 L1033.7 877.2 L1036.5 868.4 L1039.4 858.8 L1042.3 852.3 L1045.2 852.6 L1048.1 855.1 L1050.9 858.6 L1053.8 863.6 L1056.7 872.7 L1059.6 883.0 L1062.5 891.4 L1065.3 896.0 L1068.2 899.6 L1071.1 902.5 L1074.0 905.2 L1076.9 907.9 L1079.7 910.2 L1082.6 912.1 L1085.5 914.4 L1088.4 918.1 L1091.3 930.7 L1094.1 922.2 L1097.0 907.1 L1099.9 900.6 L1102.8 895.6 L1105.7 890.8 L1108.5 885.3 L1111.4 879.4 L1114.3 873.9 L1117.2 869.4 L1120.1 866.6 L1122.9 866.2 L1125.8 869.0 L1128.7 873.0 L1131.6 878.9 L1134.5 886.7 L1137.3 895.1 L1140.2 902.9 L1143.1 908.8 L1146.0 912.7 L1148.9 916.4 L1151.7 919.7 L1154.6 922.4 L1157.5 924.3 L1160.4 925.0 L1163.3 921.3 L1166.1 912.1 L1169.0 902.9 L1171.9 894.6 L1174.8 885.1 L1177.7 875.3 L1180.5 866.1 L1183.4 858.2 L1186.3 852.6 L1189.2 850.1 L1192.1 851.3 L1194.9 856.0 L1197.8 862.9 L1200.7 870.8 L1203.6 878.6 L1206.5 885.7 L1209.3 894.2 L1212.2 902.0 L1215.1 906.3 L1218.0 908.7 L1220.9 910.6 L1223.7 912.0 L1226.6 912.8 L1229.5 912.7 L1232.4 908.8 L1235.3 901.9 L1238.1 894.0 L1241.0 886.4 L1243.9 876.3 L1246.8 865.5 L1249.7 856.5 L1252.5 852.1 L1255.4 852.3 L1258.3 853.2 L1261.2 854.9 L1264.1 857.2 L1266.9 869.2 L1269.8 887.5 L1272.7 897.1 L1275.6 901.0 L1278.5 903.8 L1281.3 906.0 L1284.2 907.7 L1287.1 909.4 L1290.0 910.9 L1292.9 912.2 L1295.7 912.9 L1298.6 912.8 L1301.5 911.4 L1304.4 909.1 L1307.3 905.6 L1310.1 898.7 L1313.0 890.7 L1315.9 884.1 L1318.8 877.5 L1321.7 871.2 L1324.5 866.9 L1327.4 866.4 L1330.3 870.7 L1333.2 878.3 L1336.1 886.8 L1338.9 894.1 L1341.8 898.6 L1344.7 902.0 L1347.6 905.0 L1350.5 907.8 L1353.3 911.0 L1356.2 914.8 L1359.1 920.7 L1362.0 929.6 L1364.9 937.9 L1367.7 942.0 L1370.6 937.7 L1373.5 927.4 L1376.4 917.3 L1379.3 906.4 L1382.1 895.5 L1385.0 883.3 L1387.9 870.4 L1390.8 860.7 L1393.7 858.3 L1396.5 864.9 L1399.4 876.4 L1402.3 887.5 L1405.2 895.4 L1408.1 902.7 L1410.9 909.5 L1413.8 916.3 L1416.7 923.0 L1419.6 929.6 L1422.5 936.0 L1425.3 942.9 L1428.2 950.5 L1431.1 958.5 L1434.0 968.8 L1436.9 975.0 L1439.7 970.1 L1442.6 958.4 L1445.5 946.0 L1448.4 932.4 L1451.3 916.9 L1454.1 901.5 L1457.0 887.9 L1459.9 876.7 L1462.8 865.2 L1465.7 854.2 L1468.5 844.8 L1471.4 838.4 L1474.3 836.0 L1477.2 842.0 L1480.1 855.9 L1482.9 871.2 L1485.8 883.6 L1488.7 895.7 L1491.6 907.6 L1494.5 918.8 L1497.3 931.3 L1500.2 943.5 L1503.1 951.0 L1506.0 948.4 L1508.9 933.0 L1511.7 912.9 L1514.6 896.4 L1517.5 881.1 L1520.4 865.6 L1523.3 851.9 L1526.1 841.6 L1529.0 836.1 L1531.9 833.1 L1534.8 834.2 L1537.7 838.0 L1540.5 843.0 L1543.4 851.0 L1546.3 861.9 L1549.2 873.2 L1552.1 882.7 L1554.9 889.0 L1557.8 894.1 L1560.7 898.6 L1563.6 902.8 L1566.5 907.1 L1569.3 912.4 L1572.2 911.7 L1575.1 907.6 L1578.0 901.2 L1580.9 893.4 L1583.7 879.4 L1586.6 858.1 L1589.5 837.8 L1592.4 821.2 L1595.3 805.8 L1598.1 800.3 L1601.0 820.2 L1603.9 867.8 L1606.8 881.4 L1609.7 887.4 L1612.5 891.1 L1615.4 894.3 L1618.3 897.6 L1621.2 900.4 L1624.1 902.8 L1626.9 905.0 L1629.8 907.1 L1632.7 909.5 L1635.6 912.2 L1638.5 915.6 L1641.3 921.6 L1644.2 926.4 L1647.1 923.1 L1650.0 911.4 L1652.9 899.9 L1655.7 889.3 L1658.6 878.3 L1661.5 867.4 L1664.4 857.1 L1667.3 846.5 L1670.1 834.9 L1673.0 825.8 L1675.9 822.5 L1678.8 826.7 L1681.7 835.5 L1684.5 846.3 L1687.4 860.6 L1690.3 878.5 L1693.2 889.4 L1696.1 895.6 L1698.9 900.4 L1701.8 905.4 L1704.7 912.0 L1707.6 925.1 L1710.5 938.2 L1713.3 937.4 L1716.2 924.0 L1719.1 907.4 L1722.0 894.1 L1724.9 880.9 L1727.7 867.9 L1730.6 855.5 L1733.5 844.0 L1736.4 831.4 L1739.3 820.1 L1742.1 815.0 L1745.0 821.3 L1747.9 836.1 L1750.8 851.8 L1753.7 863.1 L1756.5 873.7 L1759.4 883.6 L1762.3 891.8 L1765.2 897.2 L1768.1 901.1 L1770.9 904.6 L1773.8 907.5 L1776.7 909.7 L1779.6 910.8 L1782.5 910.3 L1785.3 905.4 L1788.2 897.8 L1791.1 890.1 L1794.0 883.5 L1796.9 876.4 L1799.7 869.4 L1802.6 862.7 L1805.5 857.1 L1808.4 851.3 L1811.3 848.0 L1814.1 862.3 L1817.0 880.2 L1819.9 889.4 L1822.8 896.6 L1825.7 902.2 L1828.5 906.3 L1831.4 909.3 L1834.3 911.7 L1837.2 913.9 L1840.1 916.5 L1842.9 920.1 L1845.8 924.7 L1848.7 929.8 L1851.6 936.9 L1854.5 940.0 L1857.3 938.3 L1860.2 934.5 L1863.1 927.6 L1866.0 905.3 L1868.9 892.5 L1871.7 887.7 L1874.6 884.8 L1877.5 882.3 L1880.4 880.6 L1883.3 880.0 L1886.1 882.3 L1889.0 887.6 L1891.9 894.4 L1894.8 901.5 L1897.7 908.7 L1900.5 917.3 L1903.4 926.6 L1906.3 936.6 L1909.2 947.9 L1912.1 959.9 L1914.9 971.8 L1917.8 985.8 L1920.7 999.1 L1923.6 1002.6 L1926.5 996.0 L1929.3 984.1 L1932.2 971.0 L1935.1 955.1 L1938.0 936.7 L1940.9 920.3 L1943.7 902.9 L1946.6 886.7 L1949.5 876.9 L1952.4 877.3 L1955.3 883.7 L1958.1 893.2 L1961.0 903.0 L1963.9 911.5 L1966.8 920.3 L1969.7 929.5 L1972.5 938.9 L1975.4 948.4 L1978.3 958.6 L1981.2 969.0 L1984.1 979.0 L1986.9 988.9 L1989.8 999.3 L1992.7 1004.4 L1995.6 1000.1 L1998.5 989.1 L2001.3 975.2 L2004.2 958.4 L2007.1 935.9 L2010.0 915.1 L2012.9 896.4 L2015.7 877.0 L2018.6 860.5 L2021.5 850.5 L2024.4 849.8 L2027.3 856.0 L2030.1 866.3 L2033.0 878.2 L2035.9 889.6 L2038.8 900.8 L2041.7 913.1 L2044.5 924.8 L2047.4 935.0 L2050.3 945.7 L2053.2 955.0 L2056.1 959.8 L2058.9 956.9 L2061.8 946.2 L2064.7 931.7 L2067.6 915.4 L2070.5 893.1 L2073.3 873.0 L2076.2 856.6 L2079.1 841.4 L2082.0 827.9 L2084.9 816.5 L2087.7 805.6 L2090.6 797.3 L2093.5 799.8 L2096.4 818.2 L2099.3 837.3 L2102.1 859.3 L2105.0 877.0 L2107.9 886.3 L2110.8 893.2 L2113.7 898.3 L2116.5 901.8 L2119.4 904.8 L2122.3 907.1 L2125.2 908.0 L2128.1 905.1 L2130.9 897.7 L2133.8 888.6 L2136.7 879.6 L2139.6 869.0 L2142.5 857.1 L2145.3 844.8 L2148.2 832.7 L2151.1 819.5 L2154.0 805.9 L2156.9 803.6 L2159.7 823.2 L2162.6 843.3 L2165.5 857.8 L2168.4 870.7 L2171.3 880.8 L2174.1 889.0 L2177.0 896.2 L2179.9 901.9 L2182.8 906.0 L2185.7 909.4 L2188.5 912.3 L2191.4 914.3 L2194.3 914.9 L2197.2 911.1 L2200.1 902.7 L2202.9 891.7 L2205.8 879.9 L2208.7 865.7 L2211.6 847.8 L2214.5 829.2 L2217.3 811.7 L2220.2 791.2 L2223.1 772.2 L2226.0 761.0 L2228.9 761.9 L2231.7 770.7 L2234.6 783.5 L2237.5 799.2 L2240.4 825.2 L2243.3 852.7 L2246.1 870.5 L2249.0 880.2 L2251.9 888.9 L2254.8 896.2 L2257.7 901.7 L2260.5 905.0 L2263.4 905.7 L2266.3 902.3 L2269.2 895.3 L2272.1 886.2 L2274.9 875.9 L2277.8 860.2 L2280.7 840.3 L2283.6 819.5 L2286.5 799.5 L2289.3 775.0 L2292.2 752.2 L2295.1 738.9 L2298.0 742.2 L2300.9 759.1 L2303.7 781.0 L2306.6 802.1 L2309.5 827.3 L2312.4 850.6 L2315.3 865.5 L2318.1 874.7 L2318.3 875.0" stroke="#dfcb58" stroke-width="1.5" fill="none" stroke-linejoin="round" stroke-dasharray="28 16"/>
<path d="M178.3 830.0 L181.2 840.8 L184.1 847.4 L186.9 850.8 L189.8 852.2 L192.7 852.4 L195.6 847.5 L198.5 833.4 L201.3 814.3 L204.2 794.8 L207.1 776.5 L210.0 756.1 L212.9 736.6 L215.7 721.0 L218.6 707.9 L221.5 695.6 L224.4 682.9 L227.3 666.6 L230.1 648.9 L233.0 643.0 L235.9 659.0 L238.8 687.6 L241.7 719.8 L244.5 763.5 L247.4 802.4 L250.3 825.6 L253.2 840.4 L256.1 853.0 L258.9 861.8 L261.8 863.5 L264.7 854.5 L267.6 838.7 L270.5 821.4 L273.3 807.8 L276.2 795.0 L279.1 782.2 L282.0 772.2 L284.9 768.0 L287.7 770.5 L290.6 777.7 L293.5 788.5 L296.4 801.5 L299.3 815.6 L302.1 829.7 L305.0 848.6 L307.9 867.8 L310.8 877.8 L313.7 885.2 L316.5 890.7 L319.4 894.2 L322.3 896.3 L325.2 897.9 L328.1 899.2 L330.9 899.9 L333.8 897.9 L336.7 881.2 L339.6 854.0 L342.5 823.6 L345.3 797.2 L348.2 772.2 L351.1 747.1 L354.0 725.8 L356.9 710.0 L359.7 700.1 L362.6 708.4 L365.5 728.9 L368.4 750.4 L371.3 776.1 L374.1 802.7 L377.0 826.4 L379.9 850.8 L382.8 871.3 L385.7 882.7 L388.5 889.8 L391.4 895.7 L394.3 900.0 L397.2 902.5 L400.1 903.0 L402.9 902.6 L405.8 901.9 L408.7 900.7 L411.6 894.8 L414.5 870.7 L417.3 844.3 L420.2 826.5 L423.1 809.2 L426.0 796.4 L428.9 792.8 L431.7 797.6 L434.6 806.9 L437.5 820.3 L440.4 845.6 L443.3 870.9 L446.1 883.0 L449.0 888.2 L451.9 894.4 L454.8 904.5 L457.7 916.2 L460.5 927.0 L463.4 933.9 L466.3 933.2 L469.2 919.1 L472.1 898.5 L474.9 880.3 L477.8 868.2 L480.7 856.5 L483.6 839.9 L486.5 816.2 L489.3 788.9 L492.2 761.9 L495.1 739.3 L498.0 718.3 L500.9 697.3 L503.7 681.1 L506.6 674.4 L509.5 690.2 L512.4 726.3 L515.3 762.9 L518.1 800.7 L521.0 837.5 L523.9 858.6 L526.8 870.1 L529.7 878.5 L532.5 886.4 L535.4 889.9 L538.3 884.5 L541.2 873.7 L544.1 861.8 L546.9 846.8 L549.8 829.8 L552.7 817.6 L555.6 808.4 L558.5 805.2 L561.3 811.6 L564.2 823.0 L567.1 834.1 L570.0 846.0 L572.9 857.0 L575.7 867.5 L578.6 877.0 L581.5 885.9 L584.4 892.7 L587.3 897.8 L590.1 902.4 L593.0 906.4 L595.9 909.8 L598.8 912.5 L601.7 914.4 L604.5 916.0 L607.4 917.3 L610.3 918.0 L613.2 914.1 L616.1 901.5 L618.9 887.1 L621.8 868.4 L624.7 846.7 L627.6 825.3 L630.5 807.4 L633.3 790.1 L636.2 772.3 L639.1 756.3 L642.0 744.3 L644.9 738.3 L647.7 745.1 L650.6 768.7 L653.5 794.0 L656.4 819.8 L659.3 845.1 L662.1 869.9 L665.0 888.1 L667.9 898.0 L670.8 904.3 L673.7 903.1 L676.5 893.8 L679.4 883.5 L682.3 877.7 L685.2 872.3 L688.1 859.1 L690.9 831.9 L693.8 796.1 L696.7 758.2 L699.6 724.2 L702.5 693.3 L705.3 658.8 L708.2 625.7 L711.1 599.4 L714.0 585.2 L716.9 595.0 L719.7 641.8 L722.6 698.3 L725.5 740.0 L728.4 776.8 L731.3 805.0 L734.1 823.9 L737.0 837.0 L739.9 848.1 L742.8 852.4 L745.7 844.8 L748.5 828.9 L751.4 810.0 L754.3 782.6 L757.2 750.5 L760.1 719.4 L762.9 690.2 L765.8 660.6 L768.7 631.6 L771.6 603.9 L774.5 574.3 L777.3 542.1 L780.2 516.8 L783.1 508.1 L786.0 534.4 L788.9 582.0 L791.7 629.6 L794.6 688.6 L797.5 743.4 L800.4 774.8 L803.3 787.2 L806.1 798.2 L809.0 817.4 L811.9 830.0 L814.8 825.5 L817.7 813.8 L820.5 798.2 L823.4 781.0 L826.3 757.0 L829.2 728.6 L832.1 699.4 L834.9 663.5 L837.8 622.3 L840.7 589.0 L843.6 577.4 L846.5 612.9 L849.3 669.6 L852.2 712.6 L855.1 752.4 L858.0 780.6 L860.9 800.5 L863.7 815.8 L866.6 827.6 L869.5 837.2 L872.4 846.3 L875.3 854.8 L878.1 862.5 L881.0 870.6 L883.9 877.2 L886.8 879.4 L889.7 879.4 L892.5 879.3 L895.4 879.2 L898.3 879.0 L901.2 870.8 L904.1 854.2 L906.9 844.6 L909.8 836.3 L912.7 831.4 L915.6 832.3 L918.5 840.1 L921.3 849.8 L924.2 862.4 L927.1 876.0 L930.0 888.4 L932.9 894.5 L935.7 898.6 L938.6 901.8 L941.5 904.6 L944.4 907.8 L947.3 912.3 L950.1 918.5 L953.0 921.8 L955.9 918.5 L958.8 910.3 L961.7 895.3 L964.5 871.1 L967.4 852.4 L970.3 834.6 L973.2 814.9 L976.1 789.0 L978.9 750.4 L981.8 717.4 L984.7 696.7 L987.6 682.2 L990.5 684.8 L993.3 714.1 L996.2 750.1 L999.1 777.4 L1002.0 803.4 L1004.9 827.4 L1007.7 849.3 L1010.6 869.0 L1013.5 877.0 L1016.4 881.4 L1019.3 883.5 L1022.1 879.6 L1025.0 865.6 L1027.9 849.1 L1030.8 837.7 L1033.7 830.8 L1036.5 824.2 L1039.4 813.9 L1042.3 797.3 L1045.2 787.8 L1048.1 788.2 L1050.9 789.4 L1053.8 792.5 L1056.7 801.4 L1059.6 821.7 L1062.5 852.0 L1065.3 867.0 L1068.2 877.3 L1071.1 885.0 L1074.0 890.6 L1076.9 894.4 L1079.7 897.5 L1082.6 900.1 L1085.5 903.0 L1088.4 906.9 L1091.3 909.8 L1094.1 903.2 L1097.0 889.6 L1099.9 881.9 L1102.8 875.5 L1105.7 869.7 L1108.5 864.1 L1111.4 857.9 L1114.3 851.4 L1117.2 845.7 L1120.1 841.6 L1122.9 840.0 L1125.8 841.1 L1128.7 844.3 L1131.6 862.0 L1134.5 879.5 L1137.3 889.8 L1140.2 896.0 L1143.1 900.7 L1146.0 903.9 L1148.9 905.8 L1151.7 907.5 L1154.6 908.9 L1157.5 909.7 L1160.4 910.0 L1163.3 908.1 L1166.1 904.2 L1169.0 893.4 L1171.9 878.4 L1174.8 863.2 L1177.7 846.7 L1180.5 829.8 L1183.4 813.4 L1186.3 795.2 L1189.2 787.2 L1192.1 785.0 L1194.9 791.8 L1197.8 805.2 L1200.7 822.0 L1203.6 838.7 L1206.5 856.5 L1209.3 871.9 L1212.2 881.2 L1215.1 886.7 L1218.0 891.5 L1220.9 895.4 L1223.7 898.3 L1226.6 899.9 L1229.5 900.1 L1232.4 897.5 L1235.3 892.6 L1238.1 885.8 L1241.0 872.2 L1243.9 853.4 L1246.8 832.8 L1249.7 813.3 L1252.5 791.4 L1255.4 792.1 L1258.3 799.5 L1261.2 796.4 L1264.1 788.8 L1266.9 798.8 L1269.8 828.7 L1272.7 848.7 L1275.6 864.4 L1278.5 874.0 L1281.3 881.3 L1284.2 886.8 L1287.1 891.1 L1290.0 895.1 L1292.9 898.3 L1295.7 900.1 L1298.6 899.8 L1301.5 896.7 L1304.4 892.1 L1307.3 886.5 L1310.1 878.2 L1313.0 869.9 L1315.9 861.5 L1318.8 853.3 L1321.7 849.1 L1324.5 849.5 L1327.4 851.3 L1330.3 853.9 L1333.2 857.2 L1336.1 864.6 L1338.9 874.8 L1341.8 883.3 L1344.7 890.9 L1347.6 895.6 L1350.5 899.2 L1353.3 902.0 L1356.2 904.5 L1359.1 906.9 L1362.0 909.4 L1364.9 912.3 L1367.7 916.5 L1370.6 919.7 L1373.5 914.2 L1376.4 907.1 L1379.3 901.3 L1382.1 894.3 L1385.0 881.5 L1387.9 864.9 L1390.8 851.5 L1393.7 847.5 L1396.5 847.9 L1399.4 854.9 L1402.3 867.4 L1405.2 880.9 L1408.1 890.7 L1410.9 896.2 L1413.8 900.3 L1416.7 904.4 L1419.6 909.8 L1422.5 919.8 L1425.3 933.1 L1428.2 941.5 L1431.1 948.3 L1434.0 954.3 L1436.9 960.0 L1439.7 954.7 L1442.6 943.0 L1445.5 923.0 L1448.4 904.5 L1451.3 886.1 L1454.1 868.5 L1457.0 851.9 L1459.9 835.3 L1462.8 819.3 L1465.7 804.7 L1468.5 792.2 L1471.4 781.3 L1474.3 772.4 L1477.2 773.3 L1480.1 787.2 L1482.9 808.3 L1485.8 847.0 L1488.7 878.3 L1491.6 898.6 L1494.5 906.9 L1497.3 913.7 L1500.2 918.6 L1503.1 921.6 L1506.0 922.4 L1508.9 914.6 L1511.7 900.9 L1514.6 887.9 L1517.5 873.1 L1520.4 849.6 L1523.3 820.2 L1526.1 793.9 L1529.0 776.3 L1531.9 760.6 L1534.8 736.8 L1537.7 719.3 L1540.5 719.0 L1543.4 727.3 L1546.3 773.2 L1549.2 809.6 L1552.1 819.6 L1554.9 828.2 L1557.8 851.8 L1560.7 864.1 L1563.6 872.0 L1566.5 879.3 L1569.3 888.0 L1572.2 892.0 L1575.1 889.8 L1578.0 884.1 L1580.9 875.7 L1583.7 865.0 L1586.6 843.1 L1589.5 813.4 L1592.4 787.2 L1595.3 745.4 L1598.1 698.1 L1601.0 709.7 L1603.9 744.1 L1606.8 775.2 L1609.7 799.8 L1612.5 819.3 L1615.4 836.0 L1618.3 849.5 L1621.2 863.0 L1624.1 878.4 L1626.9 886.2 L1629.8 890.5 L1632.7 893.7 L1635.6 896.4 L1638.5 899.4 L1641.3 902.5 L1644.2 904.3 L1647.1 901.7 L1650.0 892.3 L1652.9 877.8 L1655.7 854.7 L1658.6 830.1 L1661.5 810.4 L1664.4 793.2 L1667.3 776.6 L1670.1 759.1 L1673.0 735.1 L1675.9 715.2 L1678.8 715.3 L1681.7 727.3 L1684.5 746.1 L1687.4 768.9 L1690.3 807.8 L1693.2 829.1 L1696.1 844.5 L1698.9 858.4 L1701.8 870.6 L1704.7 881.5 L1707.6 892.8 L1710.5 901.1 L1713.3 902.5 L1716.2 895.5 L1719.1 883.9 L1722.0 869.0 L1724.9 846.4 L1727.7 820.2 L1730.6 794.7 L1733.5 768.4 L1736.4 741.3 L1739.3 716.0 L1742.1 690.7 L1745.0 668.3 L1747.9 667.6 L1750.8 686.4 L1753.7 715.2 L1756.5 746.1 L1759.4 789.7 L1762.3 820.9 L1765.2 834.1 L1768.1 848.9 L1770.9 865.3 L1773.8 874.8 L1776.7 882.4 L1779.6 890.2 L1782.5 894.9 L1785.3 889.9 L1788.2 879.9 L1791.1 868.4 L1794.0 857.3 L1796.9 844.7 L1799.7 831.2 L1802.6 816.5 L1805.5 802.1 L1808.4 789.7 L1811.3 779.4 L1814.1 785.5 L1817.0 814.9 L1819.9 836.3 L1822.8 855.2 L1825.7 870.1 L1828.5 879.5 L1831.4 885.7 L1834.3 890.6 L1837.2 895.3 L1840.1 900.1 L1842.9 904.7 L1845.8 908.8 L1848.7 912.1 L1851.6 914.4 L1854.5 915.9 L1857.3 914.9 L1860.2 911.1 L1863.1 905.7 L1866.0 899.0 L1868.9 887.3 L1871.7 880.2 L1874.6 875.7 L1877.5 872.1 L1880.4 869.8 L1883.3 869.0 L1886.1 872.0 L1889.0 877.9 L1891.9 884.6 L1894.8 893.5 L1897.7 903.8 L1900.5 914.7 L1903.4 927.4 L1906.3 938.6 L1909.2 948.6 L1912.1 957.5 L1914.9 964.9 L1917.8 971.6 L1920.7 977.3 L1923.6 979.3 L1926.5 973.7 L1929.3 962.0 L1932.2 949.0 L1935.1 932.6 L1938.0 914.5 L1940.9 902.0 L1943.7 892.1 L1946.6 883.8 L1949.5 878.8 L1952.4 878.6 L1955.3 883.3 L1958.1 890.3 L1961.0 897.5 L1963.9 905.4 L1966.8 915.5 L1969.7 931.5 L1972.5 947.9 L1975.4 957.0 L1978.3 964.5 L1981.2 970.1 L1984.1 974.1 L1986.9 976.6 L1989.8 978.8 L1992.7 980.6 L1995.6 981.7 L1998.5 981.7 L2001.3 968.3 L2004.2 945.8 L2007.1 922.8 L2010.0 896.1 L2012.9 874.0 L2015.7 853.1 L2018.6 832.6 L2021.5 814.8 L2024.4 802.1 L2027.3 796.7 L2030.1 805.5 L2033.0 827.4 L2035.9 849.4 L2038.8 867.1 L2041.7 884.9 L2044.5 901.2 L2047.4 914.5 L2050.3 925.3 L2053.2 934.2 L2056.1 942.1 L2058.9 944.3 L2061.8 935.8 L2064.7 921.6 L2067.6 899.5 L2070.5 867.4 L2073.3 834.7 L2076.2 798.1 L2079.1 761.0 L2082.0 729.0 L2084.9 704.4 L2087.7 680.8 L2090.6 662.9 L2093.5 656.5 L2096.4 679.4 L2099.3 721.8 L2102.1 789.7 L2105.0 820.1 L2107.9 828.2 L2110.8 833.4 L2113.7 840.8 L2116.5 857.2 L2119.4 870.2 L2122.3 879.4 L2125.2 883.6 L2128.1 881.4 L2130.9 874.9 L2133.8 864.9 L2136.7 843.7 L2139.6 806.1 L2142.5 792.6 L2145.3 783.1 L2148.2 763.6 L2151.1 731.8 L2154.0 696.9 L2156.9 668.3 L2159.7 655.1 L2162.6 684.5 L2165.5 749.7 L2168.4 793.5 L2171.3 809.7 L2174.1 823.5 L2177.0 836.1 L2179.9 846.9 L2182.8 856.3 L2185.7 865.5 L2188.5 875.9 L2191.4 884.8 L2194.3 889.1 L2197.2 887.8 L2200.1 883.6 L2202.9 877.9 L2205.8 867.7 L2208.7 849.6 L2211.6 818.6 L2214.5 787.4 L2217.3 755.5 L2220.2 720.1 L2223.1 684.1 L2226.0 650.6 L2228.9 622.4 L2231.7 602.6 L2234.6 594.0 L2237.5 615.0 L2240.4 672.5 L2243.3 734.3 L2246.1 770.9 L2249.0 793.0 L2251.9 814.6 L2254.8 834.5 L2257.7 845.5 L2260.5 854.0 L2263.4 860.3 L2266.3 863.4 L2269.2 860.1 L2272.1 849.8 L2274.9 831.3 L2277.8 806.3 L2280.7 786.1 L2283.6 772.4 L2286.5 750.9 L2289.3 711.1 L2292.2 661.6 L2295.1 612.7 L2298.0 575.1 L2300.9 559.2 L2303.7 583.0 L2306.6 638.5 L2309.5 693.0 L2312.4 729.3 L2315.3 761.2 L2318.1 788.6 L2318.3 790.0" stroke="#5db85a" stroke-width="1.5" fill="none" stroke-linejoin="round" stroke-dasharray="28 16"/>
<path d="M178.5 1075.0 L181.4 1108.5 L184.3 1136.5 L187.1 1158.1 L190.0 1177.9 L192.9 1189.4 L195.8 1183.3 L198.7 1161.5 L201.5 1134.6 L204.4 1096.6 L207.3 1055.9 L210.2 1015.6 L213.1 973.8 L215.9 930.9 L218.8 886.6 L221.7 844.2 L224.6 799.4 L227.5 751.6 L230.3 715.8 L233.2 707.5 L236.1 734.5 L239.0 775.5 L241.9 837.8 L244.7 891.3 L247.6 931.0 L250.5 964.6 L253.4 994.2 L256.3 1024.6 L259.1 1048.6 L262.0 1056.9 L264.9 1045.9 L267.8 1025.4 L270.7 1006.0 L273.5 987.0 L276.4 968.5 L279.3 953.4 L282.2 938.6 L285.1 927.6 L287.9 925.6 L290.8 933.3 L293.7 947.1 L296.6 963.6 L299.5 989.3 L302.3 1021.6 L305.2 1053.5 L308.1 1087.8 L311.0 1120.2 L313.9 1146.8 L316.7 1171.0 L319.6 1188.5 L322.5 1199.1 L325.4 1207.1 L328.3 1209.9 L331.1 1197.9 L334.0 1171.8 L336.9 1137.9 L339.8 1079.0 L342.7 1008.0 L345.5 935.8 L348.4 859.1 L351.3 788.6 L354.2 721.4 L357.1 675.5 L359.9 644.3 L362.8 643.1 L365.7 653.5 L368.6 676.9 L371.5 731.7 L374.3 781.3 L377.2 826.5 L380.1 868.2 L383.0 903.8 L385.9 934.6 L388.7 964.1 L391.6 995.5 L394.5 1032.0 L397.4 1071.8 L400.3 1109.9 L403.1 1142.8 L406.0 1177.5 L408.9 1206.4 L411.8 1218.0 L414.7 1192.5 L417.5 1140.8 L420.4 1094.4 L423.3 1052.8 L426.2 1016.8 L429.1 999.9 L431.9 990.7 L434.8 985.5 L437.7 987.6 L440.6 1001.3 L443.5 1022.2 L446.3 1069.1 L449.2 1096.7 L452.1 1108.7 L455.0 1120.4 L457.9 1131.5 L460.7 1144.2 L463.6 1151.7 L466.5 1146.4 L469.4 1134.3 L472.3 1118.7 L475.1 1094.1 L478.0 1054.9 L480.9 1001.7 L483.8 955.9 L486.7 908.0 L489.5 846.9 L492.4 775.6 L495.3 706.4 L498.2 649.0 L501.1 590.1 L503.9 538.0 L506.8 506.9 L509.7 515.6 L512.6 574.9 L515.5 650.1 L518.3 714.3 L521.2 779.6 L524.1 846.1 L527.0 912.5 L529.9 961.7 L532.7 1004.1 L535.6 1040.2 L538.5 1062.3 L541.4 1063.3 L544.3 1047.7 L547.1 1026.1 L550.0 1003.7 L552.9 980.6 L555.8 963.5 L558.7 952.3 L561.5 954.7 L564.4 966.7 L567.3 1007.3 L570.2 1049.1 L573.1 1082.6 L575.9 1106.4 L578.8 1125.9 L581.7 1142.7 L584.6 1157.8 L587.5 1174.2 L590.3 1191.8 L593.2 1206.2 L596.1 1213.5 L599.0 1217.0 L601.9 1219.8 L604.7 1221.7 L607.6 1222.5 L610.5 1216.7 L613.4 1200.5 L616.3 1180.9 L619.1 1153.2 L622.0 1117.1 L624.9 1070.7 L627.8 1030.5 L630.7 995.7 L633.5 957.0 L636.4 897.7 L639.3 809.0 L642.2 724.2 L645.1 678.4 L647.9 694.7 L650.8 741.7 L653.7 785.9 L656.6 835.6 L659.5 881.8 L662.3 912.5 L665.2 927.5 L668.1 939.3 L671.0 959.5 L673.9 990.4 L676.7 984.0 L679.6 971.7 L682.5 957.5 L685.4 939.0 L688.3 915.6 L691.1 888.8 L694.0 855.2 L696.9 818.1 L699.8 782.5 L702.7 746.3 L705.5 705.7 L708.4 667.0 L711.3 636.6 L714.2 620.9 L717.1 632.7 L719.9 682.6 L722.8 750.2 L725.7 815.6 L728.6 890.8 L731.5 960.9 L734.3 1013.3 L737.2 1060.0 L740.1 1084.4 L743.0 1082.5 L745.9 1074.5 L748.7 1045.8 L751.6 1004.1 L754.5 978.6 L757.4 958.9 L760.3 937.9 L763.1 908.8 L766.0 857.8 L768.9 793.0 L771.8 733.7 L774.7 681.6 L777.5 628.7 L780.4 589.2 L783.3 578.0 L786.2 616.8 L789.1 688.0 L791.9 758.8 L794.8 824.0 L797.7 892.5 L800.6 949.6 L803.5 987.2 L806.3 1020.9 L809.2 1049.4 L812.1 1069.2 L815.0 1076.7 L817.9 1057.2 L820.7 1016.9 L823.6 979.0 L826.5 937.5 L829.4 895.1 L832.3 856.8 L835.1 817.2 L838.0 776.4 L840.9 742.7 L843.8 724.3 L846.7 732.5 L849.5 771.1 L852.4 820.6 L855.3 875.2 L858.2 939.4 L861.1 984.9 L863.9 1018.7 L866.8 1047.6 L869.7 1073.1 L872.6 1096.4 L875.5 1119.1 L878.3 1141.6 L881.2 1158.9 L884.1 1173.8 L887.0 1187.2 L889.9 1199.7 L892.7 1211.9 L895.6 1226.0 L898.5 1229.3 L901.4 1214.9 L904.3 1188.2 L907.1 1144.2 L910.0 1095.1 L912.9 1053.4 L915.8 1031.4 L918.7 1022.8 L921.5 1020.3 L924.4 1030.0 L927.3 1043.2 L930.2 1057.9 L933.1 1074.6 L935.9 1091.0 L938.8 1104.3 L941.7 1112.7 L944.6 1119.6 L947.5 1125.5 L950.3 1129.5 L953.2 1130.7 L956.1 1113.2 L959.0 1079.9 L961.9 1045.2 L964.7 1003.2 L967.6 956.3 L970.5 908.2 L973.4 856.2 L976.3 793.2 L979.1 725.5 L982.0 659.3 L984.9 601.2 L987.8 557.5 L990.7 534.7 L993.5 540.0 L996.4 574.1 L999.3 624.3 L1002.2 677.2 L1005.1 744.4 L1007.9 821.2 L1010.8 878.5 L1013.7 913.4 L1016.6 958.3 L1019.5 1002.3 L1022.3 1031.8 L1025.2 1049.6 L1028.1 1042.3 L1031.0 1018.3 L1033.9 992.0 L1036.7 960.6 L1039.6 939.1 L1042.5 923.7 L1045.4 922.4 L1048.3 932.1 L1051.1 946.0 L1054.0 959.2 L1056.9 974.3 L1059.8 994.6 L1062.7 1033.1 L1065.5 1085.3 L1068.4 1112.6 L1071.3 1134.4 L1074.2 1152.2 L1077.1 1167.1 L1079.9 1179.8 L1082.8 1192.0 L1085.7 1203.4 L1088.6 1211.5 L1091.5 1213.4 L1094.3 1190.4 L1097.2 1161.3 L1100.1 1138.9 L1103.0 1117.1 L1105.9 1092.9 L1108.7 1063.1 L1111.6 1021.3 L1114.5 978.1 L1117.4 945.2 L1120.3 913.7 L1123.1 885.3 L1126.0 865.2 L1128.9 858.7 L1131.8 866.7 L1134.7 883.2 L1137.5 902.0 L1140.4 916.7 L1143.3 927.9 L1146.2 938.1 L1149.1 947.8 L1151.9 957.4 L1154.8 967.4 L1157.7 980.0 L1160.6 991.4 L1163.5 991.5 L1166.3 980.3 L1169.2 964.3 L1172.1 947.0 L1175.0 925.1 L1177.9 901.2 L1180.7 872.3 L1183.6 836.8 L1186.5 801.9 L1189.4 774.9 L1192.3 763.1 L1195.1 773.8 L1198.0 801.1 L1200.9 831.7 L1203.8 870.2 L1206.7 912.9 L1209.5 953.2 L1212.4 993.6 L1215.3 1032.0 L1218.2 1067.2 L1221.1 1100.8 L1223.9 1128.4 L1226.8 1150.7 L1229.7 1170.2 L1232.6 1179.3 L1235.5 1176.2 L1238.3 1166.1 L1241.2 1150.0 L1244.1 1086.2 L1247.0 1012.8 L1249.9 956.4 L1252.7 924.3 L1255.6 927.2 L1258.5 928.8 L1261.4 893.1 L1264.3 868.0 L1267.1 872.3 L1270.0 881.7 L1272.9 893.4 L1275.8 904.8 L1278.7 918.4 L1281.5 934.1 L1284.4 949.5 L1287.3 962.6 L1290.2 971.6 L1293.1 979.6 L1295.9 985.6 L1298.8 987.8 L1301.7 984.4 L1304.6 976.9 L1307.5 967.7 L1310.3 959.0 L1313.2 948.7 L1316.1 937.6 L1319.0 930.6 L1321.9 930.1 L1324.7 930.6 L1327.6 931.6 L1330.5 933.1 L1333.4 935.8 L1336.3 963.1 L1339.1 1000.5 L1342.0 1033.1 L1344.9 1066.6 L1347.8 1097.0 L1350.7 1120.2 L1353.5 1138.6 L1356.4 1154.2 L1359.3 1167.2 L1362.2 1179.0 L1365.1 1189.8 L1367.9 1194.7 L1370.8 1175.8 L1373.7 1154.8 L1376.6 1140.3 L1379.5 1127.4 L1382.3 1112.8 L1385.2 1093.1 L1388.1 1065.0 L1391.0 987.1 L1393.9 944.7 L1396.7 944.9 L1399.6 950.6 L1402.5 959.2 L1405.4 969.5 L1408.3 980.4 L1411.1 996.4 L1414.0 1017.1 L1416.9 1036.9 L1419.8 1050.3 L1422.7 1059.8 L1425.5 1068.7 L1428.4 1076.5 L1431.3 1082.8 L1434.2 1087.1 L1437.1 1089.0 L1439.9 1080.8 L1442.8 1058.3 L1445.7 1034.7 L1448.6 1011.5 L1451.5 985.7 L1454.3 957.0 L1457.2 924.0 L1460.1 885.4 L1463.0 843.9 L1465.9 802.0 L1468.7 752.0 L1471.6 695.6 L1474.5 653.7 L1477.4 647.4 L1480.3 686.6 L1483.1 744.1 L1486.0 798.1 L1488.9 857.6 L1491.8 916.5 L1494.7 977.4 L1497.5 1035.8 L1500.4 1087.2 L1503.3 1139.7 L1506.2 1159.9 L1509.1 1156.6 L1511.9 1149.5 L1514.8 1137.7 L1517.7 1101.9 L1520.6 1052.6 L1523.5 1007.8 L1526.3 963.4 L1529.2 924.0 L1532.1 882.7 L1535.0 840.9 L1537.9 802.2 L1540.7 770.2 L1543.6 748.6 L1546.5 741.1 L1549.4 798.2 L1552.3 846.0 L1555.1 877.5 L1558.0 904.7 L1560.9 932.2 L1563.8 964.4 L1566.7 998.6 L1569.5 1028.2 L1572.4 1052.6 L1575.3 1067.8 L1578.2 1060.5 L1581.1 1038.8 L1583.9 1010.5 L1586.8 977.6 L1589.7 932.5 L1592.6 892.9 L1595.5 855.2 L1598.3 831.1 L1601.2 837.4 L1604.1 864.4 L1607.0 902.6 L1609.9 942.9 L1612.7 977.5 L1615.6 1013.3 L1618.5 1050.6 L1621.4 1085.8 L1624.3 1115.6 L1627.1 1137.7 L1630.0 1155.9 L1632.9 1170.9 L1635.8 1183.2 L1638.7 1195.0 L1641.5 1204.7 L1644.4 1208.6 L1647.3 1194.1 L1650.2 1171.8 L1653.1 1142.8 L1655.9 1108.2 L1658.8 1069.5 L1661.7 1028.0 L1664.6 985.1 L1667.5 935.8 L1670.3 881.1 L1673.2 825.7 L1676.1 758.2 L1679.0 691.4 L1681.9 643.9 L1684.7 633.5 L1687.6 654.3 L1690.5 692.3 L1693.4 736.5 L1696.3 778.3 L1699.1 826.8 L1702.0 879.9 L1704.9 931.9 L1707.8 977.0 L1710.7 1019.4 L1713.5 1060.2 L1716.4 1083.7 L1719.3 1077.2 L1722.2 1049.8 L1725.1 1019.5 L1727.9 992.2 L1730.8 962.8 L1733.7 928.5 L1736.6 883.4 L1739.5 834.5 L1742.3 790.1 L1745.2 758.5 L1748.1 748.2 L1751.0 770.3 L1753.9 812.6 L1756.7 862.2 L1759.6 932.7 L1762.5 1002.3 L1765.4 1047.0 L1768.3 1077.3 L1771.1 1101.8 L1774.0 1123.0 L1776.9 1144.4 L1779.8 1166.8 L1782.7 1184.3 L1785.5 1190.5 L1788.4 1178.6 L1791.3 1155.7 L1794.2 1128.0 L1797.1 1090.8 L1799.9 1055.6 L1802.8 1029.4 L1805.7 1003.9 L1808.6 964.1 L1811.5 908.7 L1814.3 879.4 L1817.2 912.1 L1820.1 961.2 L1823.0 979.1 L1825.9 991.1 L1828.7 1000.5 L1831.6 1009.7 L1834.5 1019.5 L1837.4 1028.7 L1840.3 1037.5 L1843.1 1045.5 L1846.0 1052.7 L1848.9 1060.5 L1851.8 1065.0 L1854.7 1062.5 L1857.5 1055.5 L1860.4 1045.7 L1863.3 1034.1 L1866.2 1015.2 L1869.1 995.3 L1871.9 980.7 L1874.8 968.4 L1877.7 956.7 L1880.6 943.7 L1883.5 927.8 L1886.3 913.4 L1889.2 905.4 L1892.1 915.3 L1895.0 948.8 L1897.9 979.5 L1900.7 993.2 L1903.6 1002.9 L1906.5 1011.4 L1909.4 1020.9 L1912.3 1033.8 L1915.1 1049.0 L1918.0 1063.7 L1920.9 1074.8 L1923.8 1079.4 L1926.7 1073.4 L1929.5 1058.9 L1932.4 1042.8 L1935.3 1029.4 L1938.2 1015.9 L1941.1 1001.7 L1943.9 986.2 L1946.8 965.4 L1949.7 941.6 L1952.6 939.1 L1955.5 947.5 L1958.3 961.1 L1961.2 977.6 L1964.1 994.2 L1967.0 1010.7 L1969.9 1030.9 L1972.7 1051.0 L1975.6 1066.5 L1978.5 1077.2 L1981.4 1087.3 L1984.3 1096.3 L1987.1 1103.6 L1990.0 1108.3 L1992.9 1110.0 L1995.8 1105.9 L1998.7 1095.3 L2001.5 1080.2 L2004.4 1061.8 L2007.3 1027.2 L2010.2 979.9 L2013.1 932.1 L2015.9 872.8 L2018.8 805.4 L2021.7 739.3 L2024.6 683.9 L2027.5 648.7 L2030.3 644.7 L2033.2 692.2 L2036.1 768.8 L2039.0 841.4 L2041.9 887.9 L2044.7 928.1 L2047.6 964.6 L2050.5 997.9 L2053.4 1028.3 L2056.3 1056.0 L2059.1 1084.1 L2062.0 1091.9 L2064.9 1090.7 L2067.8 1080.2 L2070.7 1038.4 L2073.5 984.6 L2076.4 937.2 L2079.3 886.5 L2082.2 837.6 L2085.1 799.4 L2087.9 768.5 L2090.8 740.3 L2093.7 720.6 L2096.6 716.2 L2099.5 751.9 L2102.3 818.1 L2105.2 889.0 L2108.1 941.6 L2111.0 985.3 L2113.9 1025.9 L2116.7 1064.0 L2119.6 1102.3 L2122.5 1145.3 L2125.4 1180.4 L2128.3 1193.2 L2131.1 1181.7 L2134.0 1162.8 L2136.9 1135.2 L2139.8 1100.1 L2142.7 1059.1 L2145.5 1003.4 L2148.4 933.9 L2151.3 873.4 L2154.2 810.1 L2157.1 761.6 L2159.9 751.9 L2162.8 776.4 L2165.7 818.0 L2168.6 862.0 L2171.5 896.7 L2174.3 930.9 L2177.2 964.9 L2180.1 996.7 L2183.0 1024.3 L2185.9 1046.0 L2188.7 1066.5 L2191.6 1085.7 L2194.5 1101.0 L2197.4 1110.0 L2200.3 1109.3 L2203.1 1095.7 L2206.0 1074.0 L2208.9 1037.2 L2211.8 991.6 L2214.7 944.1 L2217.5 895.8 L2220.4 835.1 L2223.3 769.0 L2226.2 706.2 L2229.1 655.1 L2231.9 624.2 L2234.8 623.1 L2237.7 661.3 L2240.6 726.7 L2243.5 804.0 L2246.3 877.6 L2249.2 932.2 L2252.1 971.4 L2255.0 1006.0 L2257.9 1037.6 L2260.7 1068.2 L2263.6 1103.1 L2266.5 1124.7 L2269.4 1120.0 L2272.3 1103.2 L2275.1 1077.4 L2278.0 1020.0 L2280.9 944.3 L2283.8 873.2 L2286.7 821.9 L2289.5 771.4 L2292.4 722.3 L2295.3 678.5 L2298.2 644.2 L2301.1 623.4 L2303.9 621.8 L2306.8 658.2 L2309.7 716.0 L2312.6 769.7 L2315.5 819.2 L2318.3 870.0" stroke="#5593cf" stroke-width="1.5" fill="none" stroke-linejoin="round" stroke-dasharray="28 16"/>
<path d="M178.5 404.0V1341.0H2459.5 M178.5 404.00H202.0 M178.5 537.86H202.0 M178.5 671.71H202.0 M178.5 805.57H202.0 M178.5 939.43H202.0 M178.5 1073.29H202.0 M178.5 1207.14H202.0 M178.5 1341.00H202.0 M662.50 1341.0V1317.5 M1146.50 1341.0V1317.5 M1630.50 1341.0V1317.5 M2114.50 1341.0V1317.5" stroke="#454545" stroke-width="1.5" fill="none"/>
<text x="170.5" y="419.80" text-anchor="end" font-family="Liberation Sans, sans-serif" font-size="47" fill="#262626">28</text>
<text x="170.5" y="553.66" text-anchor="end" font-family="Liberation Sans, sans-serif" font-size="47" fill="#262626">27</text>
<text x="170.5" y="687.51" text-anchor="end" font-family="Liberation Sans, sans-serif" font-size="47" fill="#262626">26</text>
<text x="170.5" y="821.37" text-anchor="end" font-family="Liberation Sans, sans-serif" font-size="47" fill="#262626">25</text>
<text x="170.5" y="955.23" text-anchor="end" font-family="Liberation Sans, sans-serif" font-size="47" fill="#262626">24</text>
<text x="170.5" y="1089.09" text-anchor="end" font-family="Liberation Sans, sans-serif" font-size="47" fill="#262626">23</text>
<text x="170.5" y="1222.94" text-anchor="end" font-family="Liberation Sans, sans-serif" font-size="47" fill="#262626">22</text>
<text x="170.5" y="1356.80" text-anchor="end" font-family="Liberation Sans, sans-serif" font-size="47" fill="#262626">21</text>
<text transform="translate(102.5 875.5) rotate(-90) scale(1 1.0)" text-anchor="middle" font-family="Liberation Sans, sans-serif" font-size="45" fill="#262626">Operative Temperatur [°C]</text>
<path d="M197 72.3H365" stroke="#f6942e" stroke-width="1.6"/>
<text transform="translate(377 87.5) scale(1 1.045)" font-family="Liberation Sans, sans-serif" font-size="44.6" fill="#000">Fancoil, schwere BW</text>
<path d="M197 137.9H365" stroke="#dfcb58" stroke-width="1.6"/>
<text transform="translate(377 153.1) scale(1 1.045)" font-family="Liberation Sans, sans-serif" font-size="44.6" fill="#000">Splitgerät, schwere BW</text>
<path d="M197 203.5H365" stroke="#5db85a" stroke-width="1.6"/>
<text transform="translate(377 218.7) scale(1 1.045)" font-family="Liberation Sans, sans-serif" font-size="44.6" fill="#000">Radiator, schwere BW</text>
<path d="M197 269.0H365" stroke="#5593cf" stroke-width="1.6"/>
<text transform="translate(377 284.2) scale(1 1.045)" font-family="Liberation Sans, sans-serif" font-size="44.6" fill="#000">Fußbodenheizung, schwere BW</text>
<path d="M197 334.9H365" stroke="#e63a45" stroke-width="1.6"/>
<text transform="translate(377 350.1) scale(1 1.045)" font-family="Liberation Sans, sans-serif" font-size="44.6" fill="#000">TABS, schwere BW</text>
<path d="M1047 72.3H1210" stroke="#f6942e" stroke-width="1.6" stroke-dasharray="28 16.5"/>
<text transform="translate(1227.5 87.5) scale(1 1.045)" font-family="Liberation Sans, sans-serif" font-size="44.6" fill="#000">Fancoil, leichte BW</text>
<path d="M1047 137.9H1210" stroke="#dfcb58" stroke-width="1.6" stroke-dasharray="28 16.5"/>
<text transform="translate(1227.5 153.1) scale(1 1.045)" font-family="Liberation Sans, sans-serif" font-size="44.6" fill="#000">Splitgerät, leichte BW</text>
<path d="M1047 203.5H1210" stroke="#5db85a" stroke-width="1.6" stroke-dasharray="28 16.5"/>
<text transform="translate(1227.5 218.7) scale(1 1.045)" font-family="Liberation Sans, sans-serif" font-size="44.6" fill="#000">Radiator, leichte BW</text>
<path d="M1047 269.0H1210" stroke="#5593cf" stroke-width="1.6" stroke-dasharray="28 16.5"/>
<text transform="translate(1227.5 284.2) scale(1 1.045)" font-family="Liberation Sans, sans-serif" font-size="44.6" fill="#000">Fußbodenheizung, leichte BW</text>
<text transform="translate(1873 87.4) scale(1 1.045)" font-family="Liberation Sans, sans-serif" font-size="44.6" fill="#000">Randbedingungen:</text>
<text transform="translate(1873 140.2) scale(1 1.045)" font-family="Liberation Sans, sans-serif" font-size="44.6" fill="#000">Temperatur-Sollwert: 24°C</text>
<text transform="translate(1873 193.0) scale(1 1.045)" font-family="Liberation Sans, sans-serif" font-size="44.6" fill="#000">Klima: Salzburg IWEC2</text>
<text transform="translate(1873 245.8) scale(1 1.045)" font-family="Liberation Sans, sans-serif" font-size="44.6" fill="#000">Lüftung: keine Nachtlüftung</text>
<text transform="translate(1873 298.6) scale(1 1.045)" font-family="Liberation Sans, sans-serif" font-size="44.6" fill="#000">Verschattung: keine Verschattung</text>
</svg></body></html>
